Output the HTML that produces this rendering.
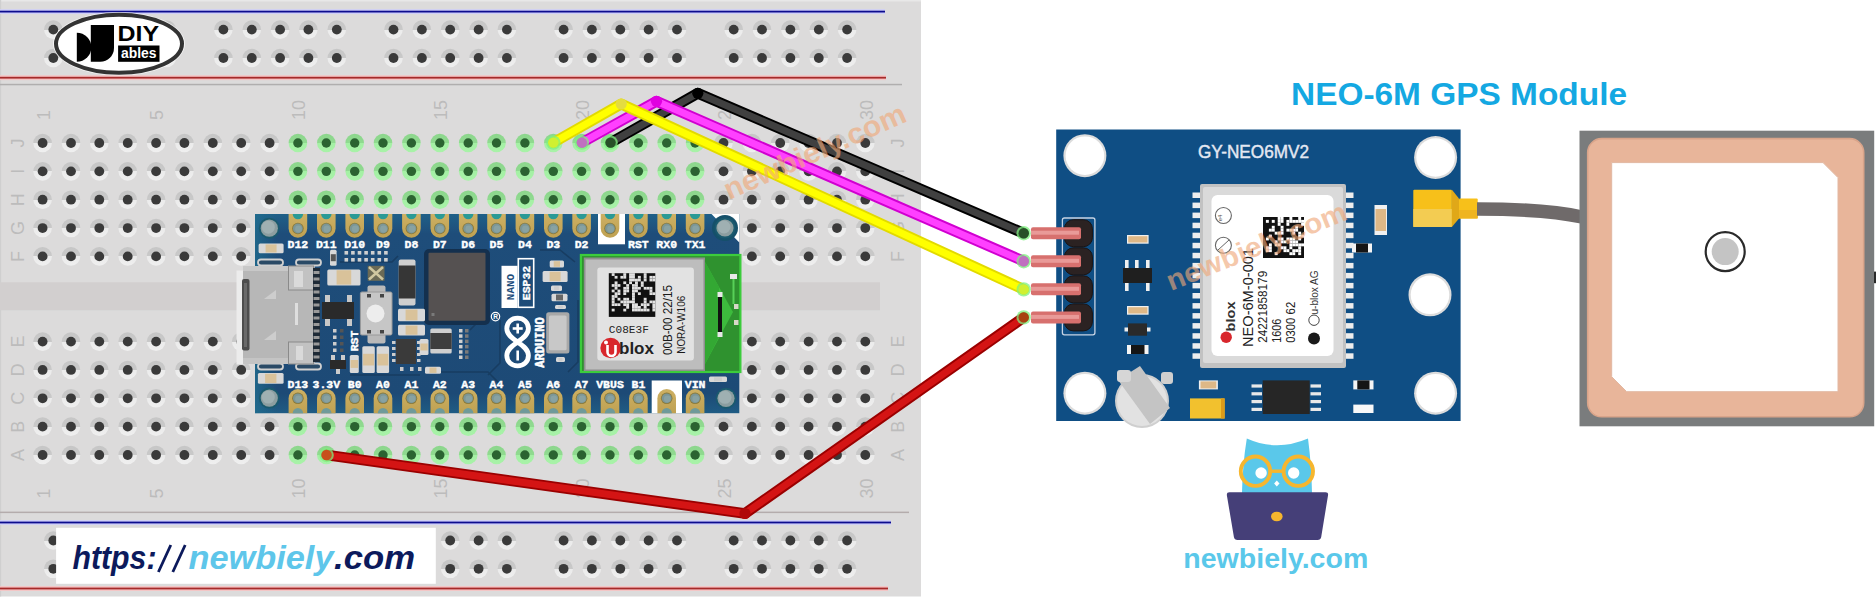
<!DOCTYPE html><html><head><meta charset="utf-8"><style>
html,body{margin:0;padding:0;background:#fff;width:1876px;height:601px;overflow:hidden}
svg{display:block}
svg{font-family:"Liberation Sans", sans-serif}
</style></head><body>
<svg width="1876" height="601" viewBox="0 0 1876 601">
<defs>
<linearGradient id="hr" x1="0" y1="0" x2="0" y2="1"><stop offset="0" stop-color="#c6c6c6"/><stop offset="0.5" stop-color="#c9c9c9"/><stop offset="0.5" stop-color="#ebebeb"/><stop offset="1" stop-color="#efefef"/></linearGradient>
<linearGradient id="gr" x1="0" y1="0" x2="0" y2="1"><stop offset="0" stop-color="#8cd68c"/><stop offset="0.5" stop-color="#90da90"/><stop offset="0.5" stop-color="#a4f0a4"/><stop offset="1" stop-color="#a8f2a8"/></linearGradient>
<g id="h"><circle r="9.3" fill="url(#hr)"/><circle r="4.9" fill="#3a3a3a"/></g>
<g id="g"><circle r="9.3" fill="url(#gr)"/><circle r="4.7" fill="#2b6331"/></g>
</defs>

<rect x="0" y="0" width="921" height="596.5" fill="#dcdbdb"/>
<rect x="0" y="0" width="921" height="1.5" fill="#e8e8e8"/>
<rect x="0" y="0" width="1.2" height="596.5" fill="#cfcfcf"/>
<rect x="0" y="9.2" width="885" height="4.8" fill="#cfcff8"/>
<rect x="0" y="10.7" width="885" height="1.8" fill="#0c0c8e"/>
<rect x="0" y="75.3" width="886" height="4.8" fill="#f5c4c4"/>
<rect x="0" y="76.8" width="886" height="1.8" fill="#a62a2a"/>
<rect x="0" y="83.8" width="902" height="1.5" fill="#b0aeae"/>
<rect x="0" y="511.6" width="909" height="1.5" fill="#b4acac"/>
<rect x="0" y="520.1" width="891" height="4.8" fill="#cfcff8"/>
<rect x="0" y="521.6" width="891" height="1.8" fill="#0c0c8e"/>
<rect x="0" y="586.1" width="888" height="4.8" fill="#f5c4c4"/>
<rect x="0" y="587.6" width="888" height="1.8" fill="#a62a2a"/>
<rect x="0" y="282.3" width="880" height="28" fill="#d2cfcf"/>
<use href="#h" x="53.3" y="29.6"/>
<use href="#h" x="81.7" y="29.6"/>
<use href="#h" x="110.0" y="29.6"/>
<use href="#h" x="138.4" y="29.6"/>
<use href="#h" x="166.7" y="29.6"/>
<use href="#h" x="223.4" y="29.6"/>
<use href="#h" x="251.8" y="29.6"/>
<use href="#h" x="280.1" y="29.6"/>
<use href="#h" x="308.4" y="29.6"/>
<use href="#h" x="336.8" y="29.6"/>
<use href="#h" x="393.5" y="29.6"/>
<use href="#h" x="421.9" y="29.6"/>
<use href="#h" x="450.2" y="29.6"/>
<use href="#h" x="478.6" y="29.6"/>
<use href="#h" x="506.9" y="29.6"/>
<use href="#h" x="563.6" y="29.6"/>
<use href="#h" x="591.9" y="29.6"/>
<use href="#h" x="620.3" y="29.6"/>
<use href="#h" x="648.6" y="29.6"/>
<use href="#h" x="677.0" y="29.6"/>
<use href="#h" x="733.7" y="29.6"/>
<use href="#h" x="762.0" y="29.6"/>
<use href="#h" x="790.4" y="29.6"/>
<use href="#h" x="818.8" y="29.6"/>
<use href="#h" x="847.1" y="29.6"/>
<use href="#h" x="53.3" y="58.0"/>
<use href="#h" x="81.7" y="58.0"/>
<use href="#h" x="110.0" y="58.0"/>
<use href="#h" x="138.4" y="58.0"/>
<use href="#h" x="166.7" y="58.0"/>
<use href="#h" x="223.4" y="58.0"/>
<use href="#h" x="251.8" y="58.0"/>
<use href="#h" x="280.1" y="58.0"/>
<use href="#h" x="308.4" y="58.0"/>
<use href="#h" x="336.8" y="58.0"/>
<use href="#h" x="393.5" y="58.0"/>
<use href="#h" x="421.9" y="58.0"/>
<use href="#h" x="450.2" y="58.0"/>
<use href="#h" x="478.6" y="58.0"/>
<use href="#h" x="506.9" y="58.0"/>
<use href="#h" x="563.6" y="58.0"/>
<use href="#h" x="591.9" y="58.0"/>
<use href="#h" x="620.3" y="58.0"/>
<use href="#h" x="648.6" y="58.0"/>
<use href="#h" x="677.0" y="58.0"/>
<use href="#h" x="733.7" y="58.0"/>
<use href="#h" x="762.0" y="58.0"/>
<use href="#h" x="790.4" y="58.0"/>
<use href="#h" x="818.8" y="58.0"/>
<use href="#h" x="847.1" y="58.0"/>
<use href="#h" x="53.3" y="540.5"/>
<use href="#h" x="81.7" y="540.5"/>
<use href="#h" x="110.0" y="540.5"/>
<use href="#h" x="138.4" y="540.5"/>
<use href="#h" x="166.7" y="540.5"/>
<use href="#h" x="223.4" y="540.5"/>
<use href="#h" x="251.8" y="540.5"/>
<use href="#h" x="280.1" y="540.5"/>
<use href="#h" x="308.4" y="540.5"/>
<use href="#h" x="336.8" y="540.5"/>
<use href="#h" x="393.5" y="540.5"/>
<use href="#h" x="421.9" y="540.5"/>
<use href="#h" x="450.2" y="540.5"/>
<use href="#h" x="478.6" y="540.5"/>
<use href="#h" x="506.9" y="540.5"/>
<use href="#h" x="563.6" y="540.5"/>
<use href="#h" x="591.9" y="540.5"/>
<use href="#h" x="620.3" y="540.5"/>
<use href="#h" x="648.6" y="540.5"/>
<use href="#h" x="677.0" y="540.5"/>
<use href="#h" x="733.7" y="540.5"/>
<use href="#h" x="762.0" y="540.5"/>
<use href="#h" x="790.4" y="540.5"/>
<use href="#h" x="818.8" y="540.5"/>
<use href="#h" x="847.1" y="540.5"/>
<use href="#h" x="53.3" y="568.8"/>
<use href="#h" x="81.7" y="568.8"/>
<use href="#h" x="110.0" y="568.8"/>
<use href="#h" x="138.4" y="568.8"/>
<use href="#h" x="166.7" y="568.8"/>
<use href="#h" x="223.4" y="568.8"/>
<use href="#h" x="251.8" y="568.8"/>
<use href="#h" x="280.1" y="568.8"/>
<use href="#h" x="308.4" y="568.8"/>
<use href="#h" x="336.8" y="568.8"/>
<use href="#h" x="393.5" y="568.8"/>
<use href="#h" x="421.9" y="568.8"/>
<use href="#h" x="450.2" y="568.8"/>
<use href="#h" x="478.6" y="568.8"/>
<use href="#h" x="506.9" y="568.8"/>
<use href="#h" x="563.6" y="568.8"/>
<use href="#h" x="591.9" y="568.8"/>
<use href="#h" x="620.3" y="568.8"/>
<use href="#h" x="648.6" y="568.8"/>
<use href="#h" x="677.0" y="568.8"/>
<use href="#h" x="733.7" y="568.8"/>
<use href="#h" x="762.0" y="568.8"/>
<use href="#h" x="790.4" y="568.8"/>
<use href="#h" x="818.8" y="568.8"/>
<use href="#h" x="847.1" y="568.8"/>
<use href="#h" x="42.6" y="143"/>
<use href="#h" x="42.6" y="171.35"/>
<use href="#h" x="42.6" y="199.7"/>
<use href="#h" x="42.6" y="228.05"/>
<use href="#h" x="42.6" y="256.4"/>
<use href="#h" x="42.6" y="341.6"/>
<use href="#h" x="42.6" y="369.95"/>
<use href="#h" x="42.6" y="398.3"/>
<use href="#h" x="42.6" y="426.65"/>
<use href="#h" x="42.6" y="455"/>
<use href="#h" x="71.0" y="143"/>
<use href="#h" x="71.0" y="171.35"/>
<use href="#h" x="71.0" y="199.7"/>
<use href="#h" x="71.0" y="228.05"/>
<use href="#h" x="71.0" y="256.4"/>
<use href="#h" x="71.0" y="341.6"/>
<use href="#h" x="71.0" y="369.95"/>
<use href="#h" x="71.0" y="398.3"/>
<use href="#h" x="71.0" y="426.65"/>
<use href="#h" x="71.0" y="455"/>
<use href="#h" x="99.3" y="143"/>
<use href="#h" x="99.3" y="171.35"/>
<use href="#h" x="99.3" y="199.7"/>
<use href="#h" x="99.3" y="228.05"/>
<use href="#h" x="99.3" y="256.4"/>
<use href="#h" x="99.3" y="341.6"/>
<use href="#h" x="99.3" y="369.95"/>
<use href="#h" x="99.3" y="398.3"/>
<use href="#h" x="99.3" y="426.65"/>
<use href="#h" x="99.3" y="455"/>
<use href="#h" x="127.7" y="143"/>
<use href="#h" x="127.7" y="171.35"/>
<use href="#h" x="127.7" y="199.7"/>
<use href="#h" x="127.7" y="228.05"/>
<use href="#h" x="127.7" y="256.4"/>
<use href="#h" x="127.7" y="341.6"/>
<use href="#h" x="127.7" y="369.95"/>
<use href="#h" x="127.7" y="398.3"/>
<use href="#h" x="127.7" y="426.65"/>
<use href="#h" x="127.7" y="455"/>
<use href="#h" x="156.1" y="143"/>
<use href="#h" x="156.1" y="171.35"/>
<use href="#h" x="156.1" y="199.7"/>
<use href="#h" x="156.1" y="228.05"/>
<use href="#h" x="156.1" y="256.4"/>
<use href="#h" x="156.1" y="341.6"/>
<use href="#h" x="156.1" y="369.95"/>
<use href="#h" x="156.1" y="398.3"/>
<use href="#h" x="156.1" y="426.65"/>
<use href="#h" x="156.1" y="455"/>
<use href="#h" x="184.4" y="143"/>
<use href="#h" x="184.4" y="171.35"/>
<use href="#h" x="184.4" y="199.7"/>
<use href="#h" x="184.4" y="228.05"/>
<use href="#h" x="184.4" y="256.4"/>
<use href="#h" x="184.4" y="341.6"/>
<use href="#h" x="184.4" y="369.95"/>
<use href="#h" x="184.4" y="398.3"/>
<use href="#h" x="184.4" y="426.65"/>
<use href="#h" x="184.4" y="455"/>
<use href="#h" x="212.8" y="143"/>
<use href="#h" x="212.8" y="171.35"/>
<use href="#h" x="212.8" y="199.7"/>
<use href="#h" x="212.8" y="228.05"/>
<use href="#h" x="212.8" y="256.4"/>
<use href="#h" x="212.8" y="341.6"/>
<use href="#h" x="212.8" y="369.95"/>
<use href="#h" x="212.8" y="398.3"/>
<use href="#h" x="212.8" y="426.65"/>
<use href="#h" x="212.8" y="455"/>
<use href="#h" x="241.2" y="143"/>
<use href="#h" x="241.2" y="171.35"/>
<use href="#h" x="241.2" y="199.7"/>
<use href="#h" x="241.2" y="228.05"/>
<use href="#h" x="241.2" y="256.4"/>
<use href="#h" x="241.2" y="341.6"/>
<use href="#h" x="241.2" y="369.95"/>
<use href="#h" x="241.2" y="398.3"/>
<use href="#h" x="241.2" y="426.65"/>
<use href="#h" x="241.2" y="455"/>
<use href="#h" x="269.6" y="143"/>
<use href="#h" x="269.6" y="171.35"/>
<use href="#h" x="269.6" y="199.7"/>
<use href="#h" x="269.6" y="228.05"/>
<use href="#h" x="269.6" y="256.4"/>
<use href="#h" x="269.6" y="341.6"/>
<use href="#h" x="269.6" y="369.95"/>
<use href="#h" x="269.6" y="398.3"/>
<use href="#h" x="269.6" y="426.65"/>
<use href="#h" x="269.6" y="455"/>
<use href="#g" x="297.9" y="143"/>
<use href="#g" x="297.9" y="171.35"/>
<use href="#g" x="297.9" y="199.7"/>
<use href="#h" x="297.9" y="228.05"/>
<use href="#h" x="297.9" y="256.4"/>
<use href="#h" x="297.9" y="341.6"/>
<use href="#h" x="297.9" y="369.95"/>
<use href="#h" x="297.9" y="398.3"/>
<use href="#g" x="297.9" y="426.65"/>
<use href="#g" x="297.9" y="455"/>
<use href="#g" x="326.3" y="143"/>
<use href="#g" x="326.3" y="171.35"/>
<use href="#g" x="326.3" y="199.7"/>
<use href="#h" x="326.3" y="228.05"/>
<use href="#h" x="326.3" y="256.4"/>
<use href="#h" x="326.3" y="341.6"/>
<use href="#h" x="326.3" y="369.95"/>
<use href="#h" x="326.3" y="398.3"/>
<use href="#g" x="326.3" y="426.65"/>
<use href="#g" x="326.3" y="455"/>
<use href="#g" x="354.7" y="143"/>
<use href="#g" x="354.7" y="171.35"/>
<use href="#g" x="354.7" y="199.7"/>
<use href="#h" x="354.7" y="228.05"/>
<use href="#h" x="354.7" y="256.4"/>
<use href="#h" x="354.7" y="341.6"/>
<use href="#h" x="354.7" y="369.95"/>
<use href="#h" x="354.7" y="398.3"/>
<use href="#g" x="354.7" y="426.65"/>
<use href="#g" x="354.7" y="455"/>
<use href="#g" x="383.0" y="143"/>
<use href="#g" x="383.0" y="171.35"/>
<use href="#g" x="383.0" y="199.7"/>
<use href="#h" x="383.0" y="228.05"/>
<use href="#h" x="383.0" y="256.4"/>
<use href="#h" x="383.0" y="341.6"/>
<use href="#h" x="383.0" y="369.95"/>
<use href="#h" x="383.0" y="398.3"/>
<use href="#g" x="383.0" y="426.65"/>
<use href="#g" x="383.0" y="455"/>
<use href="#g" x="411.4" y="143"/>
<use href="#g" x="411.4" y="171.35"/>
<use href="#g" x="411.4" y="199.7"/>
<use href="#h" x="411.4" y="228.05"/>
<use href="#h" x="411.4" y="256.4"/>
<use href="#h" x="411.4" y="341.6"/>
<use href="#h" x="411.4" y="369.95"/>
<use href="#h" x="411.4" y="398.3"/>
<use href="#g" x="411.4" y="426.65"/>
<use href="#g" x="411.4" y="455"/>
<use href="#g" x="439.8" y="143"/>
<use href="#g" x="439.8" y="171.35"/>
<use href="#g" x="439.8" y="199.7"/>
<use href="#h" x="439.8" y="228.05"/>
<use href="#h" x="439.8" y="256.4"/>
<use href="#h" x="439.8" y="341.6"/>
<use href="#h" x="439.8" y="369.95"/>
<use href="#h" x="439.8" y="398.3"/>
<use href="#g" x="439.8" y="426.65"/>
<use href="#g" x="439.8" y="455"/>
<use href="#g" x="468.2" y="143"/>
<use href="#g" x="468.2" y="171.35"/>
<use href="#g" x="468.2" y="199.7"/>
<use href="#h" x="468.2" y="228.05"/>
<use href="#h" x="468.2" y="256.4"/>
<use href="#h" x="468.2" y="341.6"/>
<use href="#h" x="468.2" y="369.95"/>
<use href="#h" x="468.2" y="398.3"/>
<use href="#g" x="468.2" y="426.65"/>
<use href="#g" x="468.2" y="455"/>
<use href="#g" x="496.5" y="143"/>
<use href="#g" x="496.5" y="171.35"/>
<use href="#g" x="496.5" y="199.7"/>
<use href="#h" x="496.5" y="228.05"/>
<use href="#h" x="496.5" y="256.4"/>
<use href="#h" x="496.5" y="341.6"/>
<use href="#h" x="496.5" y="369.95"/>
<use href="#h" x="496.5" y="398.3"/>
<use href="#g" x="496.5" y="426.65"/>
<use href="#g" x="496.5" y="455"/>
<use href="#g" x="524.9" y="143"/>
<use href="#g" x="524.9" y="171.35"/>
<use href="#g" x="524.9" y="199.7"/>
<use href="#h" x="524.9" y="228.05"/>
<use href="#h" x="524.9" y="256.4"/>
<use href="#h" x="524.9" y="341.6"/>
<use href="#h" x="524.9" y="369.95"/>
<use href="#h" x="524.9" y="398.3"/>
<use href="#g" x="524.9" y="426.65"/>
<use href="#g" x="524.9" y="455"/>
<use href="#g" x="553.3" y="143"/>
<use href="#g" x="553.3" y="171.35"/>
<use href="#g" x="553.3" y="199.7"/>
<use href="#h" x="553.3" y="228.05"/>
<use href="#h" x="553.3" y="256.4"/>
<use href="#h" x="553.3" y="341.6"/>
<use href="#h" x="553.3" y="369.95"/>
<use href="#h" x="553.3" y="398.3"/>
<use href="#g" x="553.3" y="426.65"/>
<use href="#g" x="553.3" y="455"/>
<use href="#g" x="581.6" y="143"/>
<use href="#g" x="581.6" y="171.35"/>
<use href="#g" x="581.6" y="199.7"/>
<use href="#h" x="581.6" y="228.05"/>
<use href="#h" x="581.6" y="256.4"/>
<use href="#h" x="581.6" y="341.6"/>
<use href="#h" x="581.6" y="369.95"/>
<use href="#h" x="581.6" y="398.3"/>
<use href="#g" x="581.6" y="426.65"/>
<use href="#g" x="581.6" y="455"/>
<use href="#g" x="610.0" y="143"/>
<use href="#g" x="610.0" y="171.35"/>
<use href="#g" x="610.0" y="199.7"/>
<use href="#h" x="610.0" y="228.05"/>
<use href="#h" x="610.0" y="256.4"/>
<use href="#h" x="610.0" y="341.6"/>
<use href="#h" x="610.0" y="369.95"/>
<use href="#h" x="610.0" y="398.3"/>
<use href="#g" x="610.0" y="426.65"/>
<use href="#g" x="610.0" y="455"/>
<use href="#g" x="638.4" y="143"/>
<use href="#g" x="638.4" y="171.35"/>
<use href="#g" x="638.4" y="199.7"/>
<use href="#h" x="638.4" y="228.05"/>
<use href="#h" x="638.4" y="256.4"/>
<use href="#h" x="638.4" y="341.6"/>
<use href="#h" x="638.4" y="369.95"/>
<use href="#h" x="638.4" y="398.3"/>
<use href="#g" x="638.4" y="426.65"/>
<use href="#g" x="638.4" y="455"/>
<use href="#g" x="666.7" y="143"/>
<use href="#g" x="666.7" y="171.35"/>
<use href="#g" x="666.7" y="199.7"/>
<use href="#h" x="666.7" y="228.05"/>
<use href="#h" x="666.7" y="256.4"/>
<use href="#h" x="666.7" y="341.6"/>
<use href="#h" x="666.7" y="369.95"/>
<use href="#h" x="666.7" y="398.3"/>
<use href="#g" x="666.7" y="426.65"/>
<use href="#g" x="666.7" y="455"/>
<use href="#g" x="695.1" y="143"/>
<use href="#g" x="695.1" y="171.35"/>
<use href="#g" x="695.1" y="199.7"/>
<use href="#h" x="695.1" y="228.05"/>
<use href="#h" x="695.1" y="256.4"/>
<use href="#h" x="695.1" y="341.6"/>
<use href="#h" x="695.1" y="369.95"/>
<use href="#h" x="695.1" y="398.3"/>
<use href="#g" x="695.1" y="426.65"/>
<use href="#g" x="695.1" y="455"/>
<use href="#h" x="723.5" y="143"/>
<use href="#h" x="723.5" y="171.35"/>
<use href="#h" x="723.5" y="199.7"/>
<use href="#h" x="723.5" y="228.05"/>
<use href="#h" x="723.5" y="256.4"/>
<use href="#h" x="723.5" y="341.6"/>
<use href="#h" x="723.5" y="369.95"/>
<use href="#h" x="723.5" y="398.3"/>
<use href="#h" x="723.5" y="426.65"/>
<use href="#h" x="723.5" y="455"/>
<use href="#h" x="751.9" y="143"/>
<use href="#h" x="751.9" y="171.35"/>
<use href="#h" x="751.9" y="199.7"/>
<use href="#h" x="751.9" y="228.05"/>
<use href="#h" x="751.9" y="256.4"/>
<use href="#h" x="751.9" y="341.6"/>
<use href="#h" x="751.9" y="369.95"/>
<use href="#h" x="751.9" y="398.3"/>
<use href="#h" x="751.9" y="426.65"/>
<use href="#h" x="751.9" y="455"/>
<use href="#h" x="780.2" y="143"/>
<use href="#h" x="780.2" y="171.35"/>
<use href="#h" x="780.2" y="199.7"/>
<use href="#h" x="780.2" y="228.05"/>
<use href="#h" x="780.2" y="256.4"/>
<use href="#h" x="780.2" y="341.6"/>
<use href="#h" x="780.2" y="369.95"/>
<use href="#h" x="780.2" y="398.3"/>
<use href="#h" x="780.2" y="426.65"/>
<use href="#h" x="780.2" y="455"/>
<use href="#h" x="808.6" y="143"/>
<use href="#h" x="808.6" y="171.35"/>
<use href="#h" x="808.6" y="199.7"/>
<use href="#h" x="808.6" y="228.05"/>
<use href="#h" x="808.6" y="256.4"/>
<use href="#h" x="808.6" y="341.6"/>
<use href="#h" x="808.6" y="369.95"/>
<use href="#h" x="808.6" y="398.3"/>
<use href="#h" x="808.6" y="426.65"/>
<use href="#h" x="808.6" y="455"/>
<use href="#h" x="837.0" y="143"/>
<use href="#h" x="837.0" y="171.35"/>
<use href="#h" x="837.0" y="199.7"/>
<use href="#h" x="837.0" y="228.05"/>
<use href="#h" x="837.0" y="256.4"/>
<use href="#h" x="837.0" y="341.6"/>
<use href="#h" x="837.0" y="369.95"/>
<use href="#h" x="837.0" y="398.3"/>
<use href="#h" x="837.0" y="426.65"/>
<use href="#h" x="837.0" y="455"/>
<use href="#h" x="865.3" y="143"/>
<use href="#h" x="865.3" y="171.35"/>
<use href="#h" x="865.3" y="199.7"/>
<use href="#h" x="865.3" y="228.05"/>
<use href="#h" x="865.3" y="256.4"/>
<use href="#h" x="865.3" y="341.6"/>
<use href="#h" x="865.3" y="369.95"/>
<use href="#h" x="865.3" y="398.3"/>
<use href="#h" x="865.3" y="426.65"/>
<use href="#h" x="865.3" y="455"/>
<text transform="translate(49.8,120) rotate(-90)" font-size="18" fill="#bcbcbc">1</text>
<text transform="translate(49.8,498.5) rotate(-90)" font-size="18" fill="#bcbcbc">1</text>
<text transform="translate(163.3,120) rotate(-90)" font-size="18" fill="#bcbcbc">5</text>
<text transform="translate(163.3,498.5) rotate(-90)" font-size="18" fill="#bcbcbc">5</text>
<text transform="translate(305.1,120) rotate(-90)" font-size="18" fill="#bcbcbc">10</text>
<text transform="translate(305.1,498.5) rotate(-90)" font-size="18" fill="#bcbcbc">10</text>
<text transform="translate(447.0,120) rotate(-90)" font-size="18" fill="#bcbcbc">15</text>
<text transform="translate(447.0,498.5) rotate(-90)" font-size="18" fill="#bcbcbc">15</text>
<text transform="translate(588.8,120) rotate(-90)" font-size="18" fill="#bcbcbc">20</text>
<text transform="translate(588.8,498.5) rotate(-90)" font-size="18" fill="#bcbcbc">20</text>
<text transform="translate(730.7,120) rotate(-90)" font-size="18" fill="#bcbcbc">25</text>
<text transform="translate(730.7,498.5) rotate(-90)" font-size="18" fill="#bcbcbc">25</text>
<text transform="translate(872.5,120) rotate(-90)" font-size="18" fill="#bcbcbc">30</text>
<text transform="translate(872.5,498.5) rotate(-90)" font-size="18" fill="#bcbcbc">30</text>
<text transform="translate(24.1,143) rotate(-90)" font-size="18" fill="#bcbcbc" text-anchor="middle">J</text>
<text transform="translate(904.1,143) rotate(-90)" font-size="18" fill="#bcbcbc" text-anchor="middle">J</text>
<text transform="translate(24.1,171.35) rotate(-90)" font-size="18" fill="#bcbcbc" text-anchor="middle">I</text>
<text transform="translate(904.1,171.35) rotate(-90)" font-size="18" fill="#bcbcbc" text-anchor="middle">I</text>
<text transform="translate(24.1,199.7) rotate(-90)" font-size="18" fill="#bcbcbc" text-anchor="middle">H</text>
<text transform="translate(904.1,199.7) rotate(-90)" font-size="18" fill="#bcbcbc" text-anchor="middle">H</text>
<text transform="translate(24.1,228.05) rotate(-90)" font-size="18" fill="#bcbcbc" text-anchor="middle">G</text>
<text transform="translate(904.1,228.05) rotate(-90)" font-size="18" fill="#bcbcbc" text-anchor="middle">G</text>
<text transform="translate(24.1,256.4) rotate(-90)" font-size="18" fill="#bcbcbc" text-anchor="middle">F</text>
<text transform="translate(904.1,256.4) rotate(-90)" font-size="18" fill="#bcbcbc" text-anchor="middle">F</text>
<text transform="translate(24.1,341.6) rotate(-90)" font-size="18" fill="#bcbcbc" text-anchor="middle">E</text>
<text transform="translate(904.1,341.6) rotate(-90)" font-size="18" fill="#bcbcbc" text-anchor="middle">E</text>
<text transform="translate(24.1,369.95) rotate(-90)" font-size="18" fill="#bcbcbc" text-anchor="middle">D</text>
<text transform="translate(904.1,369.95) rotate(-90)" font-size="18" fill="#bcbcbc" text-anchor="middle">D</text>
<text transform="translate(24.1,398.3) rotate(-90)" font-size="18" fill="#bcbcbc" text-anchor="middle">C</text>
<text transform="translate(904.1,398.3) rotate(-90)" font-size="18" fill="#bcbcbc" text-anchor="middle">C</text>
<text transform="translate(24.1,426.65) rotate(-90)" font-size="18" fill="#bcbcbc" text-anchor="middle">B</text>
<text transform="translate(904.1,426.65) rotate(-90)" font-size="18" fill="#bcbcbc" text-anchor="middle">B</text>
<text transform="translate(24.1,455) rotate(-90)" font-size="18" fill="#bcbcbc" text-anchor="middle">A</text>
<text transform="translate(904.1,455) rotate(-90)" font-size="18" fill="#bcbcbc" text-anchor="middle">A</text>
<g id="arduino">
<defs><linearGradient id="pcb" x1="0" y1="0" x2="0" y2="1"><stop offset="0" stop-color="#1f6088"/><stop offset="0.1" stop-color="#1e4d7a"/><stop offset="0.9" stop-color="#1d4a76"/><stop offset="1" stop-color="#1f5c84"/></linearGradient><linearGradient id="pad" x1="0" y1="0" x2="0" y2="1"><stop offset="0" stop-color="#cdb063"/><stop offset="1" stop-color="#bfa152"/></linearGradient></defs>
<rect x="255" y="214" width="484.3" height="199.2" fill="url(#pcb)"/>
<defs><linearGradient id="lt" x1="0" y1="0" x2="1" y2="0"><stop offset="0" stop-color="#207090" stop-opacity="0.7"/><stop offset="1" stop-color="#207090" stop-opacity="0"/></linearGradient></defs><rect x="255" y="214" width="22" height="199.2" fill="url(#lt)"/>
<path d="M430 372 L488 372 L500 384 M470 330 L482 318 L482 250 M488 375 L500 363 L500 320 M340 262 L392 262 L398 256 M568 372 L578 362 L578 300 M350 375 L420 375 M540 250 L560 250 L575 262" fill="none" stroke="#16395c" stroke-width="1.6" opacity="0.8"/>
<path d="M711.5 214 L739.3 214 L739.3 242.5 Z" fill="#ffffff"/>
<circle cx="725" cy="228" r="13" fill="#15506a"/>
<circle cx="269.3" cy="228.2" r="10.5" fill="#1a5a6e"/><circle cx="269.3" cy="228.2" r="8.6" fill="#8c9ea0"/><circle cx="268.3" cy="227.2" r="6.5" fill="#9fb0b2"/>
<circle cx="269.3" cy="398.1" r="10.5" fill="#1a5a6e"/><circle cx="269.3" cy="398.1" r="8.6" fill="#8c9ea0"/><circle cx="268.3" cy="397.1" r="6.5" fill="#9fb0b2"/>
<circle cx="725" cy="228" r="10.5" fill="#1a5a6e"/><circle cx="725" cy="228" r="8.6" fill="#8c9ea0"/><circle cx="724" cy="227" r="6.5" fill="#9fb0b2"/>
<circle cx="726" cy="398.3" r="10.5" fill="#1a5a6e"/><circle cx="726" cy="398.3" r="8.6" fill="#8c9ea0"/><circle cx="725" cy="397.3" r="6.5" fill="#9fb0b2"/>
<rect x="598" y="214" width="27" height="30.3" fill="#ffffff"/>
<rect x="651.7" y="380.5" width="30.3" height="32.7" fill="#ffffff"/>
<path d="M288.6 214 L307.2 214 L307.2 228.5 A9.3 9.3 0 0 1 288.6 228.5 Z" fill="url(#pad)"/>
<path d="M292.7 214 A5.2 5.2 0 0 0 303.1 214 Z" fill="#2a9a96"/>
<circle cx="297.9" cy="228.5" r="5.8" fill="#8a7a3a"/><circle cx="297.9" cy="228.5" r="4.9" fill="#7c9696"/><circle cx="298.5" cy="229" r="3.4" fill="#88a2a2"/>
<path d="M288.6 413.2 L307.2 413.2 L307.2 398.3 A9.3 9.3 0 0 0 288.6 398.3 Z" fill="url(#pad)"/>
<path d="M292.7 413.2 A5.2 5.2 0 0 1 303.1 413.2 Z" fill="#6f9a9a"/>
<circle cx="297.9" cy="398.3" r="5.8" fill="#8a7a3a"/><circle cx="297.9" cy="398.3" r="4.9" fill="#7c9696"/><circle cx="298.5" cy="398.8" r="3.4" fill="#88a2a2"/>
<text x="297.9" y="247.6" font-family='"Liberation Mono", monospace' font-weight="bold" font-size="11.5" fill="#ffffff" stroke="#ffffff" stroke-width="0.4" text-anchor="middle">D12</text>
<text x="297.9" y="387.8" font-family='"Liberation Mono", monospace' font-weight="bold" font-size="11.5" fill="#ffffff" stroke="#ffffff" stroke-width="0.4" text-anchor="middle">D13</text>
<path d="M317.0 214 L335.6 214 L335.6 228.5 A9.3 9.3 0 0 1 317.0 228.5 Z" fill="url(#pad)"/>
<path d="M321.1 214 A5.2 5.2 0 0 0 331.5 214 Z" fill="#2a9a96"/>
<circle cx="326.3" cy="228.5" r="5.8" fill="#8a7a3a"/><circle cx="326.3" cy="228.5" r="4.9" fill="#7c9696"/><circle cx="326.9" cy="229" r="3.4" fill="#88a2a2"/>
<path d="M317.0 413.2 L335.6 413.2 L335.6 398.3 A9.3 9.3 0 0 0 317.0 398.3 Z" fill="url(#pad)"/>
<path d="M321.1 413.2 A5.2 5.2 0 0 1 331.5 413.2 Z" fill="#6f9a9a"/>
<circle cx="326.3" cy="398.3" r="5.8" fill="#8a7a3a"/><circle cx="326.3" cy="398.3" r="4.9" fill="#7c9696"/><circle cx="326.9" cy="398.8" r="3.4" fill="#88a2a2"/>
<text x="326.3" y="247.6" font-family='"Liberation Mono", monospace' font-weight="bold" font-size="11.5" fill="#ffffff" stroke="#ffffff" stroke-width="0.4" text-anchor="middle">D11</text>
<text x="326.3" y="387.8" font-family='"Liberation Mono", monospace' font-weight="bold" font-size="11.5" fill="#ffffff" stroke="#ffffff" stroke-width="0.4" text-anchor="middle">3.3V</text>
<path d="M345.4 214 L364.0 214 L364.0 228.5 A9.3 9.3 0 0 1 345.4 228.5 Z" fill="url(#pad)"/>
<path d="M349.5 214 A5.2 5.2 0 0 0 359.9 214 Z" fill="#2a9a96"/>
<circle cx="354.7" cy="228.5" r="5.8" fill="#8a7a3a"/><circle cx="354.7" cy="228.5" r="4.9" fill="#7c9696"/><circle cx="355.3" cy="229" r="3.4" fill="#88a2a2"/>
<path d="M345.4 413.2 L364.0 413.2 L364.0 398.3 A9.3 9.3 0 0 0 345.4 398.3 Z" fill="url(#pad)"/>
<path d="M349.5 413.2 A5.2 5.2 0 0 1 359.9 413.2 Z" fill="#6f9a9a"/>
<circle cx="354.7" cy="398.3" r="5.8" fill="#8a7a3a"/><circle cx="354.7" cy="398.3" r="4.9" fill="#7c9696"/><circle cx="355.3" cy="398.8" r="3.4" fill="#88a2a2"/>
<text x="354.7" y="247.6" font-family='"Liberation Mono", monospace' font-weight="bold" font-size="11.5" fill="#ffffff" stroke="#ffffff" stroke-width="0.4" text-anchor="middle">D10</text>
<text x="354.7" y="387.8" font-family='"Liberation Mono", monospace' font-weight="bold" font-size="11.5" fill="#ffffff" stroke="#ffffff" stroke-width="0.4" text-anchor="middle">B0</text>
<path d="M373.7 214 L392.3 214 L392.3 228.5 A9.3 9.3 0 0 1 373.7 228.5 Z" fill="url(#pad)"/>
<path d="M377.8 214 A5.2 5.2 0 0 0 388.2 214 Z" fill="#2a9a96"/>
<circle cx="383.0" cy="228.5" r="5.8" fill="#8a7a3a"/><circle cx="383.0" cy="228.5" r="4.9" fill="#7c9696"/><circle cx="383.6" cy="229" r="3.4" fill="#88a2a2"/>
<path d="M373.7 413.2 L392.3 413.2 L392.3 398.3 A9.3 9.3 0 0 0 373.7 398.3 Z" fill="url(#pad)"/>
<path d="M377.8 413.2 A5.2 5.2 0 0 1 388.2 413.2 Z" fill="#6f9a9a"/>
<circle cx="383.0" cy="398.3" r="5.8" fill="#8a7a3a"/><circle cx="383.0" cy="398.3" r="4.9" fill="#7c9696"/><circle cx="383.6" cy="398.8" r="3.4" fill="#88a2a2"/>
<text x="383.0" y="247.6" font-family='"Liberation Mono", monospace' font-weight="bold" font-size="11.5" fill="#ffffff" stroke="#ffffff" stroke-width="0.4" text-anchor="middle">D9</text>
<text x="383.0" y="387.8" font-family='"Liberation Mono", monospace' font-weight="bold" font-size="11.5" fill="#ffffff" stroke="#ffffff" stroke-width="0.4" text-anchor="middle">A0</text>
<path d="M402.1 214 L420.7 214 L420.7 228.5 A9.3 9.3 0 0 1 402.1 228.5 Z" fill="url(#pad)"/>
<path d="M406.2 214 A5.2 5.2 0 0 0 416.6 214 Z" fill="#2a9a96"/>
<circle cx="411.4" cy="228.5" r="5.8" fill="#8a7a3a"/><circle cx="411.4" cy="228.5" r="4.9" fill="#7c9696"/><circle cx="412.0" cy="229" r="3.4" fill="#88a2a2"/>
<path d="M402.1 413.2 L420.7 413.2 L420.7 398.3 A9.3 9.3 0 0 0 402.1 398.3 Z" fill="url(#pad)"/>
<path d="M406.2 413.2 A5.2 5.2 0 0 1 416.6 413.2 Z" fill="#6f9a9a"/>
<circle cx="411.4" cy="398.3" r="5.8" fill="#8a7a3a"/><circle cx="411.4" cy="398.3" r="4.9" fill="#7c9696"/><circle cx="412.0" cy="398.8" r="3.4" fill="#88a2a2"/>
<text x="411.4" y="247.6" font-family='"Liberation Mono", monospace' font-weight="bold" font-size="11.5" fill="#ffffff" stroke="#ffffff" stroke-width="0.4" text-anchor="middle">D8</text>
<text x="411.4" y="387.8" font-family='"Liberation Mono", monospace' font-weight="bold" font-size="11.5" fill="#ffffff" stroke="#ffffff" stroke-width="0.4" text-anchor="middle">A1</text>
<path d="M430.5 214 L449.1 214 L449.1 228.5 A9.3 9.3 0 0 1 430.5 228.5 Z" fill="url(#pad)"/>
<path d="M434.6 214 A5.2 5.2 0 0 0 445.0 214 Z" fill="#2a9a96"/>
<circle cx="439.8" cy="228.5" r="5.8" fill="#8a7a3a"/><circle cx="439.8" cy="228.5" r="4.9" fill="#7c9696"/><circle cx="440.4" cy="229" r="3.4" fill="#88a2a2"/>
<path d="M430.5 413.2 L449.1 413.2 L449.1 398.3 A9.3 9.3 0 0 0 430.5 398.3 Z" fill="url(#pad)"/>
<path d="M434.6 413.2 A5.2 5.2 0 0 1 445.0 413.2 Z" fill="#6f9a9a"/>
<circle cx="439.8" cy="398.3" r="5.8" fill="#8a7a3a"/><circle cx="439.8" cy="398.3" r="4.9" fill="#7c9696"/><circle cx="440.4" cy="398.8" r="3.4" fill="#88a2a2"/>
<text x="439.8" y="247.6" font-family='"Liberation Mono", monospace' font-weight="bold" font-size="11.5" fill="#ffffff" stroke="#ffffff" stroke-width="0.4" text-anchor="middle">D7</text>
<text x="439.8" y="387.8" font-family='"Liberation Mono", monospace' font-weight="bold" font-size="11.5" fill="#ffffff" stroke="#ffffff" stroke-width="0.4" text-anchor="middle">A2</text>
<path d="M458.9 214 L477.5 214 L477.5 228.5 A9.3 9.3 0 0 1 458.9 228.5 Z" fill="url(#pad)"/>
<path d="M463.0 214 A5.2 5.2 0 0 0 473.4 214 Z" fill="#2a9a96"/>
<circle cx="468.2" cy="228.5" r="5.8" fill="#8a7a3a"/><circle cx="468.2" cy="228.5" r="4.9" fill="#7c9696"/><circle cx="468.8" cy="229" r="3.4" fill="#88a2a2"/>
<path d="M458.9 413.2 L477.5 413.2 L477.5 398.3 A9.3 9.3 0 0 0 458.9 398.3 Z" fill="url(#pad)"/>
<path d="M463.0 413.2 A5.2 5.2 0 0 1 473.4 413.2 Z" fill="#6f9a9a"/>
<circle cx="468.2" cy="398.3" r="5.8" fill="#8a7a3a"/><circle cx="468.2" cy="398.3" r="4.9" fill="#7c9696"/><circle cx="468.8" cy="398.8" r="3.4" fill="#88a2a2"/>
<text x="468.2" y="247.6" font-family='"Liberation Mono", monospace' font-weight="bold" font-size="11.5" fill="#ffffff" stroke="#ffffff" stroke-width="0.4" text-anchor="middle">D6</text>
<text x="468.2" y="387.8" font-family='"Liberation Mono", monospace' font-weight="bold" font-size="11.5" fill="#ffffff" stroke="#ffffff" stroke-width="0.4" text-anchor="middle">A3</text>
<path d="M487.2 214 L505.8 214 L505.8 228.5 A9.3 9.3 0 0 1 487.2 228.5 Z" fill="url(#pad)"/>
<path d="M491.3 214 A5.2 5.2 0 0 0 501.7 214 Z" fill="#2a9a96"/>
<circle cx="496.5" cy="228.5" r="5.8" fill="#8a7a3a"/><circle cx="496.5" cy="228.5" r="4.9" fill="#7c9696"/><circle cx="497.1" cy="229" r="3.4" fill="#88a2a2"/>
<path d="M487.2 413.2 L505.8 413.2 L505.8 398.3 A9.3 9.3 0 0 0 487.2 398.3 Z" fill="url(#pad)"/>
<path d="M491.3 413.2 A5.2 5.2 0 0 1 501.7 413.2 Z" fill="#6f9a9a"/>
<circle cx="496.5" cy="398.3" r="5.8" fill="#8a7a3a"/><circle cx="496.5" cy="398.3" r="4.9" fill="#7c9696"/><circle cx="497.1" cy="398.8" r="3.4" fill="#88a2a2"/>
<text x="496.5" y="247.6" font-family='"Liberation Mono", monospace' font-weight="bold" font-size="11.5" fill="#ffffff" stroke="#ffffff" stroke-width="0.4" text-anchor="middle">D5</text>
<text x="496.5" y="387.8" font-family='"Liberation Mono", monospace' font-weight="bold" font-size="11.5" fill="#ffffff" stroke="#ffffff" stroke-width="0.4" text-anchor="middle">A4</text>
<path d="M515.6 214 L534.2 214 L534.2 228.5 A9.3 9.3 0 0 1 515.6 228.5 Z" fill="url(#pad)"/>
<path d="M519.7 214 A5.2 5.2 0 0 0 530.1 214 Z" fill="#2a9a96"/>
<circle cx="524.9" cy="228.5" r="5.8" fill="#8a7a3a"/><circle cx="524.9" cy="228.5" r="4.9" fill="#7c9696"/><circle cx="525.5" cy="229" r="3.4" fill="#88a2a2"/>
<path d="M515.6 413.2 L534.2 413.2 L534.2 398.3 A9.3 9.3 0 0 0 515.6 398.3 Z" fill="url(#pad)"/>
<path d="M519.7 413.2 A5.2 5.2 0 0 1 530.1 413.2 Z" fill="#6f9a9a"/>
<circle cx="524.9" cy="398.3" r="5.8" fill="#8a7a3a"/><circle cx="524.9" cy="398.3" r="4.9" fill="#7c9696"/><circle cx="525.5" cy="398.8" r="3.4" fill="#88a2a2"/>
<text x="524.9" y="247.6" font-family='"Liberation Mono", monospace' font-weight="bold" font-size="11.5" fill="#ffffff" stroke="#ffffff" stroke-width="0.4" text-anchor="middle">D4</text>
<text x="524.9" y="387.8" font-family='"Liberation Mono", monospace' font-weight="bold" font-size="11.5" fill="#ffffff" stroke="#ffffff" stroke-width="0.4" text-anchor="middle">A5</text>
<path d="M544.0 214 L562.6 214 L562.6 228.5 A9.3 9.3 0 0 1 544.0 228.5 Z" fill="url(#pad)"/>
<path d="M548.1 214 A5.2 5.2 0 0 0 558.5 214 Z" fill="#2a9a96"/>
<circle cx="553.3" cy="228.5" r="5.8" fill="#8a7a3a"/><circle cx="553.3" cy="228.5" r="4.9" fill="#7c9696"/><circle cx="553.9" cy="229" r="3.4" fill="#88a2a2"/>
<path d="M544.0 413.2 L562.6 413.2 L562.6 398.3 A9.3 9.3 0 0 0 544.0 398.3 Z" fill="url(#pad)"/>
<path d="M548.1 413.2 A5.2 5.2 0 0 1 558.5 413.2 Z" fill="#6f9a9a"/>
<circle cx="553.3" cy="398.3" r="5.8" fill="#8a7a3a"/><circle cx="553.3" cy="398.3" r="4.9" fill="#7c9696"/><circle cx="553.9" cy="398.8" r="3.4" fill="#88a2a2"/>
<text x="553.3" y="247.6" font-family='"Liberation Mono", monospace' font-weight="bold" font-size="11.5" fill="#ffffff" stroke="#ffffff" stroke-width="0.4" text-anchor="middle">D3</text>
<text x="553.3" y="387.8" font-family='"Liberation Mono", monospace' font-weight="bold" font-size="11.5" fill="#ffffff" stroke="#ffffff" stroke-width="0.4" text-anchor="middle">A6</text>
<path d="M572.3 214 L590.9 214 L590.9 228.5 A9.3 9.3 0 0 1 572.3 228.5 Z" fill="url(#pad)"/>
<path d="M576.4 214 A5.2 5.2 0 0 0 586.8 214 Z" fill="#2a9a96"/>
<circle cx="581.6" cy="228.5" r="5.8" fill="#8a7a3a"/><circle cx="581.6" cy="228.5" r="4.9" fill="#7c9696"/><circle cx="582.2" cy="229" r="3.4" fill="#88a2a2"/>
<path d="M572.3 413.2 L590.9 413.2 L590.9 398.3 A9.3 9.3 0 0 0 572.3 398.3 Z" fill="url(#pad)"/>
<path d="M576.4 413.2 A5.2 5.2 0 0 1 586.8 413.2 Z" fill="#6f9a9a"/>
<circle cx="581.6" cy="398.3" r="5.8" fill="#8a7a3a"/><circle cx="581.6" cy="398.3" r="4.9" fill="#7c9696"/><circle cx="582.2" cy="398.8" r="3.4" fill="#88a2a2"/>
<text x="581.6" y="247.6" font-family='"Liberation Mono", monospace' font-weight="bold" font-size="11.5" fill="#ffffff" stroke="#ffffff" stroke-width="0.4" text-anchor="middle">D2</text>
<text x="581.6" y="387.8" font-family='"Liberation Mono", monospace' font-weight="bold" font-size="11.5" fill="#ffffff" stroke="#ffffff" stroke-width="0.4" text-anchor="middle">A7</text>
<path d="M600.7 214 L619.3 214 L619.3 228.5 A9.3 9.3 0 0 1 600.7 228.5 Z" fill="url(#pad)"/>
<path d="M604.8 214 A5.2 5.2 0 0 0 615.2 214 Z" fill="#2a9a96"/>
<circle cx="610.0" cy="228.5" r="5.8" fill="#8a7a3a"/><circle cx="610.0" cy="228.5" r="4.9" fill="#7c9696"/><circle cx="610.6" cy="229" r="3.4" fill="#88a2a2"/>
<path d="M600.7 413.2 L619.3 413.2 L619.3 398.3 A9.3 9.3 0 0 0 600.7 398.3 Z" fill="url(#pad)"/>
<path d="M604.8 413.2 A5.2 5.2 0 0 1 615.2 413.2 Z" fill="#6f9a9a"/>
<circle cx="610.0" cy="398.3" r="5.8" fill="#8a7a3a"/><circle cx="610.0" cy="398.3" r="4.9" fill="#7c9696"/><circle cx="610.6" cy="398.8" r="3.4" fill="#88a2a2"/>
<text x="610.0" y="387.8" font-family='"Liberation Mono", monospace' font-weight="bold" font-size="11.5" fill="#ffffff" stroke="#ffffff" stroke-width="0.4" text-anchor="middle">VBUS</text>
<path d="M629.1 214 L647.7 214 L647.7 228.5 A9.3 9.3 0 0 1 629.1 228.5 Z" fill="url(#pad)"/>
<path d="M633.2 214 A5.2 5.2 0 0 0 643.6 214 Z" fill="#2a9a96"/>
<circle cx="638.4" cy="228.5" r="5.8" fill="#8a7a3a"/><circle cx="638.4" cy="228.5" r="4.9" fill="#7c9696"/><circle cx="639.0" cy="229" r="3.4" fill="#88a2a2"/>
<path d="M629.1 413.2 L647.7 413.2 L647.7 398.3 A9.3 9.3 0 0 0 629.1 398.3 Z" fill="url(#pad)"/>
<path d="M633.2 413.2 A5.2 5.2 0 0 1 643.6 413.2 Z" fill="#6f9a9a"/>
<circle cx="638.4" cy="398.3" r="5.8" fill="#8a7a3a"/><circle cx="638.4" cy="398.3" r="4.9" fill="#7c9696"/><circle cx="639.0" cy="398.8" r="3.4" fill="#88a2a2"/>
<text x="638.4" y="247.6" font-family='"Liberation Mono", monospace' font-weight="bold" font-size="11.5" fill="#ffffff" stroke="#ffffff" stroke-width="0.4" text-anchor="middle">RST</text>
<text x="638.4" y="387.8" font-family='"Liberation Mono", monospace' font-weight="bold" font-size="11.5" fill="#ffffff" stroke="#ffffff" stroke-width="0.4" text-anchor="middle">B1</text>
<path d="M657.4 214 L676.0 214 L676.0 228.5 A9.3 9.3 0 0 1 657.4 228.5 Z" fill="url(#pad)"/>
<path d="M661.5 214 A5.2 5.2 0 0 0 671.9 214 Z" fill="#2a9a96"/>
<circle cx="666.7" cy="228.5" r="5.8" fill="#8a7a3a"/><circle cx="666.7" cy="228.5" r="4.9" fill="#7c9696"/><circle cx="667.3" cy="229" r="3.4" fill="#88a2a2"/>
<path d="M657.4 413.2 L676.0 413.2 L676.0 398.3 A9.3 9.3 0 0 0 657.4 398.3 Z" fill="url(#pad)"/>
<path d="M661.5 413.2 A5.2 5.2 0 0 1 671.9 413.2 Z" fill="#6f9a9a"/>
<circle cx="666.7" cy="398.3" r="5.8" fill="#8a7a3a"/><circle cx="666.7" cy="398.3" r="4.9" fill="#7c9696"/><circle cx="667.3" cy="398.8" r="3.4" fill="#88a2a2"/>
<text x="666.7" y="247.6" font-family='"Liberation Mono", monospace' font-weight="bold" font-size="11.5" fill="#ffffff" stroke="#ffffff" stroke-width="0.4" text-anchor="middle">RX0</text>
<path d="M685.8 214 L704.4 214 L704.4 228.5 A9.3 9.3 0 0 1 685.8 228.5 Z" fill="url(#pad)"/>
<path d="M689.9 214 A5.2 5.2 0 0 0 700.3 214 Z" fill="#2a9a96"/>
<circle cx="695.1" cy="228.5" r="5.8" fill="#8a7a3a"/><circle cx="695.1" cy="228.5" r="4.9" fill="#7c9696"/><circle cx="695.7" cy="229" r="3.4" fill="#88a2a2"/>
<path d="M685.8 413.2 L704.4 413.2 L704.4 398.3 A9.3 9.3 0 0 0 685.8 398.3 Z" fill="url(#pad)"/>
<path d="M689.9 413.2 A5.2 5.2 0 0 1 700.3 413.2 Z" fill="#6f9a9a"/>
<circle cx="695.1" cy="398.3" r="5.8" fill="#8a7a3a"/><circle cx="695.1" cy="398.3" r="4.9" fill="#7c9696"/><circle cx="695.7" cy="398.8" r="3.4" fill="#88a2a2"/>
<text x="695.1" y="247.6" font-family='"Liberation Mono", monospace' font-weight="bold" font-size="11.5" fill="#ffffff" stroke="#ffffff" stroke-width="0.4" text-anchor="middle">TX1</text>
<text x="695.1" y="387.8" font-family='"Liberation Mono", monospace' font-weight="bold" font-size="11.5" fill="#ffffff" stroke="#ffffff" stroke-width="0.4" text-anchor="middle">VIN</text>
<rect x="258.6" y="243.6" width="25" height="9.7" rx="1.5" fill="#d8d8d8"/>
<rect x="265.6" y="244.4" width="11.0" height="8.1" fill="#d9c29a"/>
<rect x="257.9" y="373" width="25.7" height="10.8" rx="1.5" fill="#d8d8d8"/>
<rect x="265.1" y="373.8" width="11.3" height="9.200000000000001" fill="#d9c29a"/>
<rect x="258" y="259.5" width="25" height="6" rx="3" fill="#2a4a66" stroke="#d0d0d0" stroke-width="1.8"/>
<rect x="296" y="259.5" width="25" height="6" rx="3" fill="#2a4a66" stroke="#d0d0d0" stroke-width="1.8"/>
<rect x="258" y="363.5" width="25" height="6" rx="3" fill="#2a4a66" stroke="#d0d0d0" stroke-width="1.8"/>
<rect x="296" y="363.5" width="25" height="6" rx="3" fill="#2a4a66" stroke="#d0d0d0" stroke-width="1.8"/>
<rect x="236.5" y="270.5" width="8" height="94" fill="#ececec"/>
<rect x="243" y="266" width="71.5" height="98" fill="#b7b7b7"/>
<rect x="243" y="266" width="71.5" height="5" fill="#c8c8c8"/><rect x="243" y="358" width="71.5" height="6" fill="#c4c4c4"/>
<rect x="242" y="279" width="7.5" height="71.5" rx="2" fill="#4d4d4d"/><rect x="244" y="283" width="3" height="64" fill="#6a6a6a"/>
<path d="M264 299 L276 290 L276 299 Z" fill="#cdcdcd"/><path d="M264 340 L276 331 L276 340 Z" fill="#cdcdcd"/>
<rect x="288.5" y="266" width="25" height="24" fill="#c2c2c2" stroke="#8a8a8a" stroke-width="1"/><rect x="294" y="271" width="9" height="16" fill="#dadada"/>
<rect x="288.5" y="342" width="25" height="22" fill="#c2c2c2" stroke="#8a8a8a" stroke-width="1"/><rect x="296" y="346" width="7" height="14" fill="#dadada"/>
<rect x="295" y="303" width="3" height="22" fill="#dedede"/>
<rect x="313" y="268" width="7" height="94" fill="#1e2a36"/>
<rect x="313.5" y="271.0" width="6" height="3" fill="#9a9a9a"/>
<rect x="313.5" y="277.5" width="6" height="3" fill="#9a9a9a"/>
<rect x="313.5" y="284.0" width="6" height="3" fill="#9a9a9a"/>
<rect x="313.5" y="290.5" width="6" height="3" fill="#9a9a9a"/>
<rect x="313.5" y="297.0" width="6" height="3" fill="#9a9a9a"/>
<rect x="313.5" y="303.5" width="6" height="3" fill="#9a9a9a"/>
<rect x="313.5" y="310.0" width="6" height="3" fill="#9a9a9a"/>
<rect x="313.5" y="316.5" width="6" height="3" fill="#9a9a9a"/>
<rect x="313.5" y="323.0" width="6" height="3" fill="#9a9a9a"/>
<rect x="313.5" y="329.5" width="6" height="3" fill="#9a9a9a"/>
<rect x="313.5" y="336.0" width="6" height="3" fill="#9a9a9a"/>
<rect x="313.5" y="342.5" width="6" height="3" fill="#9a9a9a"/>
<rect x="313.5" y="349.0" width="6" height="3" fill="#9a9a9a"/>
<rect x="313.5" y="355.5" width="6" height="3" fill="#9a9a9a"/>
<rect x="330" y="249.7" width="6.6" height="16" rx="1.5" fill="#d8d8d8"/>
<rect x="330.8" y="254.2" width="5.0" height="7.0" fill="#555"/>
<rect x="344.5" y="251" width="3.6" height="3.6" fill="#d0d0d0"/>
<rect x="344.5" y="258" width="3.6" height="3.6" fill="#d0d0d0"/>
<rect x="351.1" y="251" width="3.6" height="3.6" fill="#d0d0d0"/>
<rect x="351.1" y="258" width="3.6" height="3.6" fill="#d0d0d0"/>
<rect x="357.7" y="251" width="3.6" height="3.6" fill="#d0d0d0"/>
<rect x="357.7" y="258" width="3.6" height="3.6" fill="#d0d0d0"/>
<rect x="364.3" y="251" width="3.6" height="3.6" fill="#d0d0d0"/>
<rect x="364.3" y="258" width="3.6" height="3.6" fill="#d0d0d0"/>
<rect x="370.9" y="251" width="3.6" height="3.6" fill="#d0d0d0"/>
<rect x="370.9" y="258" width="3.6" height="3.6" fill="#d0d0d0"/>
<rect x="377.5" y="251" width="3.6" height="3.6" fill="#d0d0d0"/>
<rect x="377.5" y="258" width="3.6" height="3.6" fill="#d0d0d0"/>
<rect x="384.1" y="251" width="3.6" height="3.6" fill="#d0d0d0"/>
<rect x="384.1" y="258" width="3.6" height="3.6" fill="#d0d0d0"/>
<rect x="327.3" y="269.4" width="33.2" height="16" rx="1.5" fill="#d8d8d8"/>
<rect x="336.6" y="270.2" width="14.6" height="14.4" fill="#d9c29a"/>
<rect x="367.7" y="265.8" width="16.8" height="15" fill="#6b6a55"/><path d="M369 267 L383 279.5 M383 267 L369 279.5" stroke="#cfc7a0" stroke-width="2.5"/>
<rect x="398.7" y="259.6" width="16.8" height="46" rx="2" fill="#cfcfcf"/><rect x="398.7" y="265.5" width="16.8" height="33" fill="#363636"/>
<rect x="424" y="249" width="66" height="76" rx="5" fill="#14304e"/><rect x="428.5" y="252.7" width="57" height="68" rx="1" fill="#555151"/><rect x="431.5" y="313" width="3" height="3" fill="#7a7a7a"/>
<rect x="325" y="295" width="5" height="8" fill="#c8c8c8"/><rect x="325" y="318" width="5" height="8" fill="#c8c8c8"/>
<rect x="347" y="295" width="5" height="8" fill="#c8c8c8"/><rect x="347" y="318" width="5" height="8" fill="#c8c8c8"/>
<rect x="322" y="302" width="32" height="17" fill="#2a2a2a"/>
<rect x="367.5" y="285.4" width="18" height="58" rx="2" fill="#b9b9b9"/>
<rect x="360.4" y="292" width="31.6" height="43" rx="1.5" fill="#c6c6c6" stroke="#9a9a9a" stroke-width="1"/>
<circle cx="375.5" cy="313.5" r="9" fill="#ededed"/>
<rect x="367" y="294" width="4" height="3.5" fill="#444"/><rect x="380" y="294" width="4" height="3.5" fill="#444"/><rect x="367" y="330" width="4" height="3.5" fill="#444"/><rect x="380" y="330" width="4" height="3.5" fill="#444"/>
<rect x="398" y="308.7" width="27" height="12.5" rx="1.5" fill="#d8d8d8"/>
<rect x="405.6" y="309.5" width="11.9" height="10.9" fill="#d9c29a"/>
<rect x="398" y="324.8" width="27" height="10.7" rx="1.5" fill="#d8d8d8"/>
<rect x="405.6" y="325.6" width="11.9" height="9.1" fill="#d9c29a"/>
<text transform="translate(357.5,341) rotate(-90)" font-family='"Liberation Mono", monospace' font-weight="bold" font-size="11.5" fill="#fff" stroke="#fff" stroke-width="0.4" text-anchor="middle">RST</text>
<rect x="333" y="329.0" width="3.5" height="3.5" fill="#ccc"/><rect x="340" y="329.0" width="3.5" height="3.5" fill="#555"/>
<rect x="333" y="335.5" width="3.5" height="3.5" fill="#ccc"/><rect x="340" y="335.5" width="3.5" height="3.5" fill="#555"/>
<rect x="333" y="342.0" width="3.5" height="3.5" fill="#ccc"/><rect x="340" y="342.0" width="3.5" height="3.5" fill="#555"/>
<rect x="333" y="348.5" width="3.5" height="3.5" fill="#ccc"/><rect x="340" y="348.5" width="3.5" height="3.5" fill="#555"/>
<rect x="362.3" y="346.3" width="12.5" height="26.7" rx="1.5" fill="#d8d8d8"/>
<rect x="363.1" y="353.8" width="10.9" height="11.7" fill="#d9c29a"/>
<rect x="376.6" y="346.3" width="12.5" height="26.7" rx="1.5" fill="#d8d8d8"/>
<rect x="377.40000000000003" y="353.8" width="10.9" height="11.7" fill="#d9c29a"/>
<rect x="349.8" y="355" width="9" height="18" rx="1.5" fill="#d8d8d8"/>
<rect x="350.6" y="360.0" width="7.4" height="7.9" fill="#d9c29a"/>
<rect x="330" y="360" width="16" height="9" fill="#2a2a2a"/><rect x="331" y="355" width="4" height="5" fill="#ccc"/><rect x="341" y="355" width="4" height="5" fill="#ccc"/><rect x="336" y="369" width="4" height="5" fill="#ccc"/>
<rect x="396" y="339" width="20" height="25" fill="#3a3a3a"/>
<rect x="392" y="341" width="3.5" height="3" fill="#ccc"/><rect x="417" y="341" width="3.5" height="3" fill="#ccc"/>
<rect x="392" y="347" width="3.5" height="3" fill="#ccc"/><rect x="417" y="347" width="3.5" height="3" fill="#ccc"/>
<rect x="392" y="353" width="3.5" height="3" fill="#ccc"/><rect x="417" y="353" width="3.5" height="3" fill="#ccc"/>
<rect x="392" y="359" width="3.5" height="3" fill="#ccc"/><rect x="417" y="359" width="3.5" height="3" fill="#ccc"/>
<rect x="419.6" y="339" width="8.9" height="16" rx="1.5" fill="#d8d8d8"/>
<rect x="420.40000000000003" y="343.5" width="7.300000000000001" height="7.0" fill="#d9c29a"/>
<rect x="430.3" y="328.4" width="21.4" height="25" rx="1.5" fill="#cfcfcf"/><rect x="430.3" y="333" width="21.4" height="16" fill="#3e3e3e"/>
<rect x="459" y="329.0" width="3.5" height="3.5" fill="#d0d0d0"/><rect x="465" y="329.0" width="3.5" height="3.5" fill="#7a7a7a"/>
<rect x="459" y="334.3" width="3.5" height="3.5" fill="#d0d0d0"/><rect x="465" y="334.3" width="3.5" height="3.5" fill="#7a7a7a"/>
<rect x="459" y="339.6" width="3.5" height="3.5" fill="#d0d0d0"/><rect x="465" y="339.6" width="3.5" height="3.5" fill="#7a7a7a"/>
<rect x="459" y="344.9" width="3.5" height="3.5" fill="#d0d0d0"/><rect x="465" y="344.9" width="3.5" height="3.5" fill="#7a7a7a"/>
<rect x="459" y="350.2" width="3.5" height="3.5" fill="#d0d0d0"/><rect x="465" y="350.2" width="3.5" height="3.5" fill="#7a7a7a"/>
<rect x="459" y="355.5" width="3.5" height="3.5" fill="#d0d0d0"/><rect x="465" y="355.5" width="3.5" height="3.5" fill="#7a7a7a"/>
<rect x="425" y="366.7" width="16" height="7" rx="1.5" fill="#d8d8d8"/>
<rect x="429.5" y="367.5" width="7.0" height="5.4" fill="#d9c29a"/>
<rect x="400" y="367" width="3.5" height="4" fill="#c8c8c8"/>
<rect x="410" y="367" width="3.5" height="4" fill="#c8c8c8"/>
<rect x="418" y="367" width="3.5" height="4" fill="#c8c8c8"/>
<rect x="501.5" y="265.8" width="16.1" height="42.2" fill="#ffffff"/>
<rect x="518.3" y="258.7" width="15.4" height="48.6" fill="none" stroke="#ffffff" stroke-width="1.6"/>
<text transform="translate(513.5,287) rotate(-90)" font-family='"Liberation Mono", monospace' font-weight="bold" font-size="11" fill="#1d4d7b" text-anchor="middle">NANO</text>
<text transform="translate(530,283) rotate(-90)" font-family='"Liberation Mono", monospace' font-weight="bold" font-size="11.5" fill="#ffffff" stroke="#ffffff" stroke-width="0.35" text-anchor="middle">ESP32</text>
<circle cx="495.5" cy="316.6" r="4.2" fill="none" stroke="#fff" stroke-width="1.2"/><text x="495.5" y="319.2" font-size="6.5" font-weight="bold" fill="#fff" text-anchor="middle">R</text>
<path d="M517.6 342 C511 337.5 506.8 334 506.8 328.5 C506.8 322.3 511.6 318.2 517.6 318.2 C523.6 318.2 528.4 322.3 528.4 328.5 C528.4 334 524.2 337.5 517.6 342 C511 346.5 506.8 350 506.8 355.5 C506.8 361.7 511.6 365.8 517.6 365.8 C523.6 365.8 528.4 361.7 528.4 355.5 C528.4 350 524.2 346.5 517.6 342 Z" fill="none" stroke="#ffffff" stroke-width="4.8"/>
<rect x="516.4" y="323.5" width="2.6" height="10" fill="#fff"/><rect x="512.7" y="327.2" width="10" height="2.6" fill="#fff"/>
<rect x="516.4" y="350.5" width="2.6" height="10" fill="#fff"/>
<text transform="translate(543.5,342.5) rotate(-90)" font-family='"Liberation Mono", monospace' font-weight="bold" font-size="12" fill="#ffffff" stroke="#ffffff" stroke-width="0.5" text-anchor="middle">ARDUINO</text>
<rect x="549.7" y="260.4" width="14.3" height="7.2" rx="1.5" fill="#d8d8d8"/>
<rect x="553.7" y="261.2" width="6.3" height="5.6" fill="#d9c29a"/>
<rect x="542.6" y="271" width="25" height="11" rx="1.5" fill="#d8d8d8"/>
<rect x="549.6" y="271.8" width="11.0" height="9.4" fill="#d9c29a"/>
<rect x="551" y="285.5" width="11" height="5.5" rx="1.5" fill="#d8d8d8"/>
<rect x="554.1" y="286.3" width="4.8" height="3.9" fill="#ccc"/>
<rect x="551.5" y="293.7" width="16" height="7.5" rx="1.5" fill="#d8d8d8"/>
<rect x="556.0" y="294.5" width="7.0" height="5.9" fill="#666"/>
<rect x="555" y="305" width="11" height="4" rx="1.5" fill="#d8d8d8"/>
<rect x="558.1" y="305.8" width="4.8" height="2.4" fill="#ccc"/>
<rect x="546.2" y="312.3" width="23.2" height="41.1" rx="2.5" fill="#a8a8a8"/><rect x="549" y="315.5" width="17.6" height="34.7" rx="1.5" fill="#c8c8c8"/>
<rect x="556" y="357" width="9" height="5" rx="1.5" fill="#d8d8d8"/>
<rect x="558.5" y="357.8" width="4.0" height="3.4" fill="#ccc"/>
<rect x="580.9" y="255" width="159.5" height="117" fill="#2f922f"/>
<path d="M705 262 L733 312 L705 364 Z" fill="#3dbb3d"/>
<path d="M705 262 L719 287 L719 337 L705 364 Z" fill="#33a833"/>
<rect x="580.9" y="255" width="159.5" height="117" fill="none" stroke="#3ccc3c" stroke-width="2.2"/>
<rect x="718" y="294" width="4" height="42" fill="#111"/>
<rect x="717.5" y="292" width="5" height="5" fill="#e8e8e8"/><rect x="717.5" y="332" width="5" height="5" fill="#e8e8e8"/>
<rect x="732.5" y="276" width="2" height="28" fill="#58d058"/>
<rect x="730" y="274" width="7" height="5" fill="#e8e8e8"/><rect x="734" y="304" width="4.5" height="5" fill="#d8d8c8"/><rect x="734" y="320" width="4.5" height="5" fill="#d8d8c8"/>
<rect x="583.8" y="257.5" width="121.2" height="113.5" fill="#8f8f8f"/>
<rect x="585.5" y="259.5" width="118" height="110" fill="#bdbdbd"/>
<rect x="597.3" y="267.6" width="96.6" height="93" rx="3" fill="#e2e2e2"/>
<rect x="608.8" y="273.2" width="46.5" height="43.7" fill="#111"/>
<rect x="611.7" y="273.2" width="2.91" height="2.73" fill="#e2e2e2"/>
<rect x="611.7" y="284.1" width="2.91" height="2.73" fill="#e2e2e2"/>
<rect x="611.7" y="289.6" width="2.91" height="2.73" fill="#e2e2e2"/>
<rect x="611.7" y="295.1" width="2.91" height="2.73" fill="#e2e2e2"/>
<rect x="611.7" y="297.8" width="2.91" height="2.73" fill="#e2e2e2"/>
<rect x="611.7" y="300.5" width="2.91" height="2.73" fill="#e2e2e2"/>
<rect x="611.7" y="303.3" width="2.91" height="2.73" fill="#e2e2e2"/>
<rect x="611.7" y="308.7" width="2.91" height="2.73" fill="#e2e2e2"/>
<rect x="614.6" y="275.9" width="2.91" height="2.73" fill="#e2e2e2"/>
<rect x="614.6" y="281.4" width="2.91" height="2.73" fill="#e2e2e2"/>
<rect x="614.6" y="284.1" width="2.91" height="2.73" fill="#e2e2e2"/>
<rect x="614.6" y="286.9" width="2.91" height="2.73" fill="#e2e2e2"/>
<rect x="614.6" y="292.3" width="2.91" height="2.73" fill="#e2e2e2"/>
<rect x="614.6" y="295.1" width="2.91" height="2.73" fill="#e2e2e2"/>
<rect x="614.6" y="303.3" width="2.91" height="2.73" fill="#e2e2e2"/>
<rect x="617.5" y="284.1" width="2.91" height="2.73" fill="#e2e2e2"/>
<rect x="617.5" y="289.6" width="2.91" height="2.73" fill="#e2e2e2"/>
<rect x="617.5" y="292.3" width="2.91" height="2.73" fill="#e2e2e2"/>
<rect x="617.5" y="297.8" width="2.91" height="2.73" fill="#e2e2e2"/>
<rect x="617.5" y="303.3" width="2.91" height="2.73" fill="#e2e2e2"/>
<rect x="620.4" y="275.9" width="2.91" height="2.73" fill="#e2e2e2"/>
<rect x="620.4" y="300.5" width="2.91" height="2.73" fill="#e2e2e2"/>
<rect x="623.3" y="273.2" width="2.91" height="2.73" fill="#e2e2e2"/>
<rect x="623.3" y="275.9" width="2.91" height="2.73" fill="#e2e2e2"/>
<rect x="623.3" y="281.4" width="2.91" height="2.73" fill="#e2e2e2"/>
<rect x="623.3" y="286.9" width="2.91" height="2.73" fill="#e2e2e2"/>
<rect x="623.3" y="289.6" width="2.91" height="2.73" fill="#e2e2e2"/>
<rect x="623.3" y="292.3" width="2.91" height="2.73" fill="#e2e2e2"/>
<rect x="623.3" y="297.8" width="2.91" height="2.73" fill="#e2e2e2"/>
<rect x="623.3" y="300.5" width="2.91" height="2.73" fill="#e2e2e2"/>
<rect x="623.3" y="303.3" width="2.91" height="2.73" fill="#e2e2e2"/>
<rect x="623.3" y="308.7" width="2.91" height="2.73" fill="#e2e2e2"/>
<rect x="626.2" y="284.1" width="2.91" height="2.73" fill="#e2e2e2"/>
<rect x="626.2" y="286.9" width="2.91" height="2.73" fill="#e2e2e2"/>
<rect x="626.2" y="289.6" width="2.91" height="2.73" fill="#e2e2e2"/>
<rect x="626.2" y="297.8" width="2.91" height="2.73" fill="#e2e2e2"/>
<rect x="626.2" y="300.5" width="2.91" height="2.73" fill="#e2e2e2"/>
<rect x="626.2" y="303.3" width="2.91" height="2.73" fill="#e2e2e2"/>
<rect x="626.2" y="306.0" width="2.91" height="2.73" fill="#e2e2e2"/>
<rect x="629.1" y="273.2" width="2.91" height="2.73" fill="#e2e2e2"/>
<rect x="629.1" y="275.9" width="2.91" height="2.73" fill="#e2e2e2"/>
<rect x="629.1" y="278.7" width="2.91" height="2.73" fill="#e2e2e2"/>
<rect x="629.1" y="281.4" width="2.91" height="2.73" fill="#e2e2e2"/>
<rect x="629.1" y="300.5" width="2.91" height="2.73" fill="#e2e2e2"/>
<rect x="632.0" y="273.2" width="2.91" height="2.73" fill="#e2e2e2"/>
<rect x="632.0" y="275.9" width="2.91" height="2.73" fill="#e2e2e2"/>
<rect x="632.0" y="278.7" width="2.91" height="2.73" fill="#e2e2e2"/>
<rect x="632.0" y="284.1" width="2.91" height="2.73" fill="#e2e2e2"/>
<rect x="632.0" y="286.9" width="2.91" height="2.73" fill="#e2e2e2"/>
<rect x="632.0" y="289.6" width="2.91" height="2.73" fill="#e2e2e2"/>
<rect x="632.0" y="292.3" width="2.91" height="2.73" fill="#e2e2e2"/>
<rect x="632.0" y="295.1" width="2.91" height="2.73" fill="#e2e2e2"/>
<rect x="632.0" y="297.8" width="2.91" height="2.73" fill="#e2e2e2"/>
<rect x="632.0" y="300.5" width="2.91" height="2.73" fill="#e2e2e2"/>
<rect x="632.0" y="303.3" width="2.91" height="2.73" fill="#e2e2e2"/>
<rect x="632.0" y="306.0" width="2.91" height="2.73" fill="#e2e2e2"/>
<rect x="632.0" y="308.7" width="2.91" height="2.73" fill="#e2e2e2"/>
<rect x="635.0" y="278.7" width="2.91" height="2.73" fill="#e2e2e2"/>
<rect x="635.0" y="281.4" width="2.91" height="2.73" fill="#e2e2e2"/>
<rect x="635.0" y="284.1" width="2.91" height="2.73" fill="#e2e2e2"/>
<rect x="635.0" y="286.9" width="2.91" height="2.73" fill="#e2e2e2"/>
<rect x="635.0" y="289.6" width="2.91" height="2.73" fill="#e2e2e2"/>
<rect x="635.0" y="303.3" width="2.91" height="2.73" fill="#e2e2e2"/>
<rect x="635.0" y="306.0" width="2.91" height="2.73" fill="#e2e2e2"/>
<rect x="635.0" y="308.7" width="2.91" height="2.73" fill="#e2e2e2"/>
<rect x="637.9" y="275.9" width="2.91" height="2.73" fill="#e2e2e2"/>
<rect x="637.9" y="278.7" width="2.91" height="2.73" fill="#e2e2e2"/>
<rect x="637.9" y="286.9" width="2.91" height="2.73" fill="#e2e2e2"/>
<rect x="637.9" y="292.3" width="2.91" height="2.73" fill="#e2e2e2"/>
<rect x="637.9" y="306.0" width="2.91" height="2.73" fill="#e2e2e2"/>
<rect x="637.9" y="308.7" width="2.91" height="2.73" fill="#e2e2e2"/>
<rect x="640.8" y="281.4" width="2.91" height="2.73" fill="#e2e2e2"/>
<rect x="640.8" y="284.1" width="2.91" height="2.73" fill="#e2e2e2"/>
<rect x="640.8" y="303.3" width="2.91" height="2.73" fill="#e2e2e2"/>
<rect x="640.8" y="308.7" width="2.91" height="2.73" fill="#e2e2e2"/>
<rect x="643.7" y="273.2" width="2.91" height="2.73" fill="#e2e2e2"/>
<rect x="643.7" y="275.9" width="2.91" height="2.73" fill="#e2e2e2"/>
<rect x="643.7" y="278.7" width="2.91" height="2.73" fill="#e2e2e2"/>
<rect x="643.7" y="286.9" width="2.91" height="2.73" fill="#e2e2e2"/>
<rect x="643.7" y="297.8" width="2.91" height="2.73" fill="#e2e2e2"/>
<rect x="643.7" y="300.5" width="2.91" height="2.73" fill="#e2e2e2"/>
<rect x="643.7" y="303.3" width="2.91" height="2.73" fill="#e2e2e2"/>
<rect x="643.7" y="306.0" width="2.91" height="2.73" fill="#e2e2e2"/>
<rect x="643.7" y="308.7" width="2.91" height="2.73" fill="#e2e2e2"/>
<rect x="646.6" y="286.9" width="2.91" height="2.73" fill="#e2e2e2"/>
<rect x="646.6" y="303.3" width="2.91" height="2.73" fill="#e2e2e2"/>
<rect x="646.6" y="308.7" width="2.91" height="2.73" fill="#e2e2e2"/>
<rect x="649.5" y="275.9" width="2.91" height="2.73" fill="#e2e2e2"/>
<rect x="649.5" y="278.7" width="2.91" height="2.73" fill="#e2e2e2"/>
<rect x="649.5" y="286.9" width="2.91" height="2.73" fill="#e2e2e2"/>
<rect x="649.5" y="289.6" width="2.91" height="2.73" fill="#e2e2e2"/>
<rect x="649.5" y="292.3" width="2.91" height="2.73" fill="#e2e2e2"/>
<rect x="649.5" y="300.5" width="2.91" height="2.73" fill="#e2e2e2"/>
<rect x="652.4" y="275.9" width="2.91" height="2.73" fill="#e2e2e2"/>
<rect x="652.4" y="278.7" width="2.91" height="2.73" fill="#e2e2e2"/>
<rect x="652.4" y="292.3" width="2.91" height="2.73" fill="#e2e2e2"/>
<rect x="652.4" y="300.5" width="2.91" height="2.73" fill="#e2e2e2"/>
<rect x="652.4" y="303.3" width="2.91" height="2.73" fill="#e2e2e2"/>
<rect x="652.4" y="306.0" width="2.91" height="2.73" fill="#e2e2e2"/>
<rect x="652.4" y="308.7" width="2.91" height="2.73" fill="#e2e2e2"/>
<text x="608.8" y="332.5" font-family='"Liberation Mono", monospace' font-size="11" fill="#222" textLength="40" lengthAdjust="spacingAndGlyphs">C08E3F</text>
<circle cx="610.6" cy="348" r="10.2" fill="#d8262c"/><circle cx="606" cy="342.5" r="2" fill="#fff"/>
<path d="M607.5 345 L607.5 352 A4 4 0 0 0 615.5 352 L615.5 345" fill="none" stroke="#fff" stroke-width="2.6"/>
<text x="619" y="353.5" font-size="17" font-weight="bold" fill="#222">blox</text>
<text transform="translate(672,355) rotate(-90)" font-size="12.5" fill="#1a1a1a" textLength="70" lengthAdjust="spacingAndGlyphs">00B-00 22/15</text>
<text transform="translate(684.5,353.8) rotate(-90)" font-size="11.5" fill="#1a1a1a" textLength="58" lengthAdjust="spacingAndGlyphs">NORA-W106</text>
<rect x="709" y="376.5" width="18" height="5.5" rx="1.5" fill="#d8d8d8"/>
<rect x="714.0" y="377.3" width="7.9" height="3.9" fill="#ccc"/>
</g>
<g id="gps">
<rect x="1056.2" y="129.5" width="404.4" height="291.5" fill="#0f4e84"/>
<circle cx="1084.9" cy="155.7" r="21.5" fill="#dcdcdc"/><circle cx="1084.9" cy="155.7" r="19.3" fill="#ffffff"/>
<circle cx="1435.6" cy="157.5" r="21.5" fill="#dcdcdc"/><circle cx="1435.6" cy="157.5" r="19.3" fill="#ffffff"/>
<circle cx="1430" cy="294.8" r="21.5" fill="#dcdcdc"/><circle cx="1430" cy="294.8" r="19.3" fill="#ffffff"/>
<circle cx="1435.6" cy="393.2" r="21.5" fill="#dcdcdc"/><circle cx="1435.6" cy="393.2" r="19.3" fill="#ffffff"/>
<circle cx="1084.9" cy="393.2" r="21.5" fill="#dcdcdc"/><circle cx="1084.9" cy="393.2" r="19.3" fill="#ffffff"/>
<text x="1198" y="157.5" font-size="19.2" fill="#e4e8f2" stroke="#e4e8f2" stroke-width="0.45" textLength="111" lengthAdjust="spacingAndGlyphs">GY-NEO6MV2</text>
<rect x="1062.4" y="218" width="32.5" height="116.8" rx="2" fill="none" stroke="#c8d4e4" stroke-width="1.3"/>
<rect x="1064.4" y="219.7" width="28" height="27" rx="9" fill="#2b2222"/>
<rect x="1064.4" y="219.7" width="28" height="27" rx="9" fill="none" stroke="#1a1414" stroke-width="1"/>
<rect x="1031" y="227.2" width="50" height="12" rx="2" fill="#d7706e"/>
<rect x="1031" y="230.7" width="48" height="4" fill="#e99a98"/>
<rect x="1064.4" y="247.8" width="28" height="27" rx="9" fill="#2b2222"/>
<rect x="1064.4" y="247.8" width="28" height="27" rx="9" fill="none" stroke="#1a1414" stroke-width="1"/>
<rect x="1031" y="255.3" width="50" height="12" rx="2" fill="#d7706e"/>
<rect x="1031" y="258.8" width="48" height="4" fill="#e99a98"/>
<rect x="1064.4" y="275.8" width="28" height="27" rx="9" fill="#2b2222"/>
<rect x="1064.4" y="275.8" width="28" height="27" rx="9" fill="none" stroke="#1a1414" stroke-width="1"/>
<rect x="1031" y="283.3" width="50" height="12" rx="2" fill="#d7706e"/>
<rect x="1031" y="286.8" width="48" height="4" fill="#e99a98"/>
<rect x="1064.4" y="303.9" width="28" height="27" rx="9" fill="#2b2222"/>
<rect x="1064.4" y="303.9" width="28" height="27" rx="9" fill="none" stroke="#1a1414" stroke-width="1"/>
<rect x="1031" y="311.4" width="50" height="12" rx="2" fill="#d7706e"/>
<rect x="1031" y="314.9" width="48" height="4" fill="#e99a98"/>
<rect x="1127" y="235" width="21.6" height="8.7" fill="#f0f0f0"/><rect x="1128.2" y="236.2" width="19.200000000000003" height="6.299999999999999" fill="#deb887"/>
<rect x="1127" y="306" width="21.6" height="8.7" fill="#f0f0f0"/><rect x="1128.2" y="307.2" width="19.200000000000003" height="6.299999999999999" fill="#deb887"/>
<rect x="1123" y="268" width="29" height="15" fill="#1f1f1f"/>
<rect x="1125" y="260" width="3.6" height="8" fill="#f0f0f0"/>
<rect x="1135" y="260" width="3.6" height="8" fill="#f0f0f0"/>
<rect x="1146" y="260" width="3.6" height="8" fill="#f0f0f0"/>
<rect x="1125" y="283" width="3.6" height="8" fill="#f0f0f0"/>
<rect x="1146" y="283" width="3.6" height="8" fill="#f0f0f0"/>
<rect x="1128" y="323.4" width="19" height="12.3" fill="#2a2a2a"/><rect x="1124.5" y="327.5" width="3.5" height="4" fill="#eee"/><rect x="1147" y="327.5" width="3.5" height="4" fill="#eee"/>
<rect x="1127" y="345" width="21.5" height="9" fill="#f4f4f4"/><rect x="1131" y="345" width="13.5" height="9" fill="#151515"/>
<rect x="1374.5" y="205" width="12.5" height="30" fill="#f0f0f0"/><rect x="1375.5" y="209" width="10.5" height="22" fill="#deb887"/>
<rect x="1352" y="243.5" width="20" height="9" fill="#f4f4f4"/><rect x="1356" y="243.5" width="12" height="9" fill="#151515"/>
<rect x="1353.3" y="380.4" width="20.2" height="9" fill="#f4f4f4"/><rect x="1357.3" y="380.4" width="12.2" height="9" fill="#151515"/>
<rect x="1353.3" y="404.6" width="20.2" height="8.4" fill="#f8f8f8"/>
<rect x="1198.9" y="380.4" width="19" height="9" fill="#f0f0f0"/><rect x="1200.5" y="381.4" width="15.8" height="7" fill="#deb887"/>
<rect x="1190" y="398.4" width="34.6" height="20.1" fill="#f2c12e"/><rect x="1221" y="398.4" width="3.6" height="20.1" fill="#dc9a18"/>
<rect x="1262.7" y="380.4" width="47" height="33.6" fill="#262626"/>
<rect x="1251.5" y="384.4" width="10.5" height="3.2" fill="#e8e8e8"/><rect x="1310.5" y="384.4" width="10.5" height="3.2" fill="#e8e8e8"/>
<rect x="1251.5" y="392.2" width="10.5" height="3.2" fill="#e8e8e8"/><rect x="1310.5" y="392.2" width="10.5" height="3.2" fill="#e8e8e8"/>
<rect x="1251.5" y="400.0" width="10.5" height="3.2" fill="#e8e8e8"/><rect x="1310.5" y="400.0" width="10.5" height="3.2" fill="#e8e8e8"/>
<rect x="1251.5" y="407.8" width="10.5" height="3.2" fill="#e8e8e8"/><rect x="1310.5" y="407.8" width="10.5" height="3.2" fill="#e8e8e8"/>
<circle cx="1142" cy="401" r="27" fill="#cfcfcf"/>
<circle cx="1142" cy="401" r="25" fill="#e2e2e2"/>
<path d="M1118 380 L1140 366 L1170 408 L1150 424 Z" fill="#c4c4c4"/>
<rect x="1117" y="370" width="14" height="12" rx="3" fill="#d6d6d6"/><rect x="1161" y="372" width="12" height="12" rx="3" fill="#cfcfcf"/>
<rect x="1192.5" y="192.5" width="9" height="5.5" fill="#eeeeee"/><rect x="1345" y="192.5" width="8.5" height="5.5" fill="#eeeeee"/>
<rect x="1192.5" y="202.6" width="9" height="5.5" fill="#eeeeee"/><rect x="1345" y="202.6" width="8.5" height="5.5" fill="#eeeeee"/>
<rect x="1192.5" y="212.6" width="9" height="5.5" fill="#eeeeee"/><rect x="1345" y="212.6" width="8.5" height="5.5" fill="#eeeeee"/>
<rect x="1192.5" y="222.7" width="9" height="5.5" fill="#eeeeee"/><rect x="1345" y="222.7" width="8.5" height="5.5" fill="#eeeeee"/>
<rect x="1192.5" y="232.7" width="9" height="5.5" fill="#eeeeee"/><rect x="1345" y="232.7" width="8.5" height="5.5" fill="#eeeeee"/>
<rect x="1192.5" y="242.8" width="9" height="5.5" fill="#eeeeee"/><rect x="1345" y="242.8" width="8.5" height="5.5" fill="#eeeeee"/>
<rect x="1192.5" y="252.8" width="9" height="5.5" fill="#eeeeee"/><rect x="1345" y="252.8" width="8.5" height="5.5" fill="#eeeeee"/>
<rect x="1192.5" y="262.9" width="9" height="5.5" fill="#eeeeee"/><rect x="1345" y="262.9" width="8.5" height="5.5" fill="#eeeeee"/>
<rect x="1192.5" y="272.9" width="9" height="5.5" fill="#eeeeee"/><rect x="1345" y="272.9" width="8.5" height="5.5" fill="#eeeeee"/>
<rect x="1192.5" y="282.9" width="9" height="5.5" fill="#eeeeee"/><rect x="1345" y="282.9" width="8.5" height="5.5" fill="#eeeeee"/>
<rect x="1192.5" y="293.0" width="9" height="5.5" fill="#eeeeee"/><rect x="1345" y="293.0" width="8.5" height="5.5" fill="#eeeeee"/>
<rect x="1192.5" y="303.1" width="9" height="5.5" fill="#eeeeee"/><rect x="1345" y="303.1" width="8.5" height="5.5" fill="#eeeeee"/>
<rect x="1192.5" y="313.1" width="9" height="5.5" fill="#eeeeee"/><rect x="1345" y="313.1" width="8.5" height="5.5" fill="#eeeeee"/>
<rect x="1192.5" y="323.1" width="9" height="5.5" fill="#eeeeee"/><rect x="1345" y="323.1" width="8.5" height="5.5" fill="#eeeeee"/>
<rect x="1192.5" y="333.2" width="9" height="5.5" fill="#eeeeee"/><rect x="1345" y="333.2" width="8.5" height="5.5" fill="#eeeeee"/>
<rect x="1192.5" y="343.2" width="9" height="5.5" fill="#eeeeee"/><rect x="1345" y="343.2" width="8.5" height="5.5" fill="#eeeeee"/>
<rect x="1192.5" y="353.3" width="9" height="5.5" fill="#eeeeee"/><rect x="1345" y="353.3" width="8.5" height="5.5" fill="#eeeeee"/>
<rect x="1200" y="184" width="146" height="184" rx="2" fill="#c2c2c2"/>
<rect x="1203" y="187" width="140" height="176" rx="2" fill="#dadada"/>
<rect x="1211.5" y="195" width="122" height="161" rx="6" fill="#ffffff"/>
<rect x="1263" y="217" width="41" height="41" fill="#111"/>
<rect x="1265.9" y="219.9" width="2.93" height="2.93" fill="#fff"/>
<rect x="1265.9" y="237.5" width="2.93" height="2.93" fill="#fff"/>
<rect x="1265.9" y="246.3" width="2.93" height="2.93" fill="#fff"/>
<rect x="1265.9" y="249.2" width="2.93" height="2.93" fill="#fff"/>
<rect x="1268.9" y="228.7" width="2.93" height="2.93" fill="#fff"/>
<rect x="1268.9" y="234.6" width="2.93" height="2.93" fill="#fff"/>
<rect x="1268.9" y="243.4" width="2.93" height="2.93" fill="#fff"/>
<rect x="1268.9" y="246.3" width="2.93" height="2.93" fill="#fff"/>
<rect x="1268.9" y="249.2" width="2.93" height="2.93" fill="#fff"/>
<rect x="1271.8" y="219.9" width="2.93" height="2.93" fill="#fff"/>
<rect x="1271.8" y="225.8" width="2.93" height="2.93" fill="#fff"/>
<rect x="1271.8" y="228.7" width="2.93" height="2.93" fill="#fff"/>
<rect x="1274.7" y="231.7" width="2.93" height="2.93" fill="#fff"/>
<rect x="1274.7" y="240.4" width="2.93" height="2.93" fill="#fff"/>
<rect x="1274.7" y="243.4" width="2.93" height="2.93" fill="#fff"/>
<rect x="1274.7" y="252.2" width="2.93" height="2.93" fill="#fff"/>
<rect x="1277.7" y="217.0" width="2.93" height="2.93" fill="#fff"/>
<rect x="1277.7" y="219.9" width="2.93" height="2.93" fill="#fff"/>
<rect x="1277.7" y="222.9" width="2.93" height="2.93" fill="#fff"/>
<rect x="1277.7" y="231.7" width="2.93" height="2.93" fill="#fff"/>
<rect x="1277.7" y="237.5" width="2.93" height="2.93" fill="#fff"/>
<rect x="1277.7" y="243.4" width="2.93" height="2.93" fill="#fff"/>
<rect x="1280.6" y="217.0" width="2.93" height="2.93" fill="#fff"/>
<rect x="1280.6" y="219.9" width="2.93" height="2.93" fill="#fff"/>
<rect x="1280.6" y="225.8" width="2.93" height="2.93" fill="#fff"/>
<rect x="1280.6" y="228.7" width="2.93" height="2.93" fill="#fff"/>
<rect x="1280.6" y="231.7" width="2.93" height="2.93" fill="#fff"/>
<rect x="1280.6" y="237.5" width="2.93" height="2.93" fill="#fff"/>
<rect x="1280.6" y="240.4" width="2.93" height="2.93" fill="#fff"/>
<rect x="1280.6" y="246.3" width="2.93" height="2.93" fill="#fff"/>
<rect x="1283.5" y="240.4" width="2.93" height="2.93" fill="#fff"/>
<rect x="1283.5" y="246.3" width="2.93" height="2.93" fill="#fff"/>
<rect x="1283.5" y="249.2" width="2.93" height="2.93" fill="#fff"/>
<rect x="1286.4" y="219.9" width="2.93" height="2.93" fill="#fff"/>
<rect x="1286.4" y="222.9" width="2.93" height="2.93" fill="#fff"/>
<rect x="1286.4" y="228.7" width="2.93" height="2.93" fill="#fff"/>
<rect x="1286.4" y="237.5" width="2.93" height="2.93" fill="#fff"/>
<rect x="1286.4" y="249.2" width="2.93" height="2.93" fill="#fff"/>
<rect x="1289.4" y="217.0" width="2.93" height="2.93" fill="#fff"/>
<rect x="1289.4" y="219.9" width="2.93" height="2.93" fill="#fff"/>
<rect x="1289.4" y="228.7" width="2.93" height="2.93" fill="#fff"/>
<rect x="1289.4" y="237.5" width="2.93" height="2.93" fill="#fff"/>
<rect x="1289.4" y="240.4" width="2.93" height="2.93" fill="#fff"/>
<rect x="1289.4" y="243.4" width="2.93" height="2.93" fill="#fff"/>
<rect x="1289.4" y="246.3" width="2.93" height="2.93" fill="#fff"/>
<rect x="1289.4" y="252.2" width="2.93" height="2.93" fill="#fff"/>
<rect x="1292.3" y="219.9" width="2.93" height="2.93" fill="#fff"/>
<rect x="1292.3" y="228.7" width="2.93" height="2.93" fill="#fff"/>
<rect x="1292.3" y="231.7" width="2.93" height="2.93" fill="#fff"/>
<rect x="1292.3" y="237.5" width="2.93" height="2.93" fill="#fff"/>
<rect x="1292.3" y="240.4" width="2.93" height="2.93" fill="#fff"/>
<rect x="1292.3" y="243.4" width="2.93" height="2.93" fill="#fff"/>
<rect x="1292.3" y="249.2" width="2.93" height="2.93" fill="#fff"/>
<rect x="1292.3" y="252.2" width="2.93" height="2.93" fill="#fff"/>
<rect x="1295.2" y="219.9" width="2.93" height="2.93" fill="#fff"/>
<rect x="1295.2" y="225.8" width="2.93" height="2.93" fill="#fff"/>
<rect x="1295.2" y="228.7" width="2.93" height="2.93" fill="#fff"/>
<rect x="1295.2" y="240.4" width="2.93" height="2.93" fill="#fff"/>
<rect x="1295.2" y="243.4" width="2.93" height="2.93" fill="#fff"/>
<rect x="1295.2" y="249.2" width="2.93" height="2.93" fill="#fff"/>
<rect x="1298.2" y="217.0" width="2.93" height="2.93" fill="#fff"/>
<rect x="1298.2" y="219.9" width="2.93" height="2.93" fill="#fff"/>
<rect x="1298.2" y="231.7" width="2.93" height="2.93" fill="#fff"/>
<rect x="1298.2" y="234.6" width="2.93" height="2.93" fill="#fff"/>
<rect x="1298.2" y="237.5" width="2.93" height="2.93" fill="#fff"/>
<rect x="1298.2" y="243.4" width="2.93" height="2.93" fill="#fff"/>
<rect x="1298.2" y="246.3" width="2.93" height="2.93" fill="#fff"/>
<rect x="1298.2" y="249.2" width="2.93" height="2.93" fill="#fff"/>
<rect x="1298.2" y="252.2" width="2.93" height="2.93" fill="#fff"/>
<rect x="1301.1" y="219.9" width="2.93" height="2.93" fill="#fff"/>
<rect x="1301.1" y="222.9" width="2.93" height="2.93" fill="#fff"/>
<rect x="1301.1" y="234.6" width="2.93" height="2.93" fill="#fff"/>
<rect x="1301.1" y="243.4" width="2.93" height="2.93" fill="#fff"/>
<circle cx="1223.4" cy="215.5" r="8" fill="none" stroke="#666" stroke-width="1.1"/><circle cx="1223.4" cy="245.2" r="8" fill="none" stroke="#666" stroke-width="1.1"/>
<text transform="translate(1222,218) rotate(-90)" font-size="6" fill="#555" text-anchor="middle">e4</text>
<path d="M1218 250 L1229 240" stroke="#666" stroke-width="1"/>
<text transform="translate(1235,331.5) rotate(-90)" font-size="12" font-weight="bold" fill="#333" textLength="30" lengthAdjust="spacingAndGlyphs">blox</text>
<circle cx="1226.2" cy="337.2" r="5.7" fill="#d8262c"/>
<text transform="translate(1253,347) rotate(-90)" font-size="15" fill="#222" textLength="99" lengthAdjust="spacingAndGlyphs">NEO-6M-0-001</text>
<text transform="translate(1266.5,342.8) rotate(-90)" font-size="12.5" fill="#222" textLength="72" lengthAdjust="spacingAndGlyphs">24221858179</text>
<text transform="translate(1280.5,342.8) rotate(-90)" font-size="12.5" fill="#222" textLength="24" lengthAdjust="spacingAndGlyphs">1606</text>
<text transform="translate(1295,342.8) rotate(-90)" font-size="12.5" fill="#222" textLength="41" lengthAdjust="spacingAndGlyphs">0300  62</text>
<text transform="translate(1318,314.5) rotate(-90)" font-size="10" fill="#333" textLength="44" lengthAdjust="spacingAndGlyphs">u-blox AG</text>
<circle cx="1314" cy="320.2" r="5.2" fill="none" stroke="#444" stroke-width="1"/>
<circle cx="1314" cy="338.6" r="6" fill="#1a1a1a"/>
<rect x="1413.3" y="189.7" width="38.6" height="37.3" rx="1" fill="#f7c01a"/>
<rect x="1413.3" y="209" width="38.6" height="18" fill="#f3cc52"/>
<path d="M1451.9 189.7 L1459 198.5 L1459 218.5 L1451.9 227 Z" fill="#e0a818"/>
<rect x="1459" y="198.5" width="18.7" height="20" rx="1" fill="#f7c01a"/><rect x="1459" y="210" width="18.7" height="8.5" fill="#efb420"/>
</g>
<path d="M1477 209 C1520 209 1555 211 1582 217" fill="none" stroke="#6f6a6a" stroke-width="13.5"/>
<rect x="1579.5" y="130.7" width="294.7" height="295.6" fill="#7a7c7d"/>
<rect x="1587.7" y="138.6" width="276" height="278.2" rx="14" fill="#e8b59a" stroke="#d9a48a" stroke-width="1.6"/>
<path d="M1611.7 162.6 L1823 162.6 L1838 177.6 L1838 391.7 L1626.7 391.7 L1611.7 376.7 Z" fill="#ffffff" stroke="#e2b8a2" stroke-width="1"/>
<circle cx="1725.2" cy="251.6" r="19.5" fill="#ffffff" stroke="#2a2a2a" stroke-width="2.2"/><circle cx="1725.2" cy="251.6" r="13.5" fill="#c4c4c4"/>
<rect x="1874" y="271.6" width="2" height="11.6" fill="#2a2a2a"/>
<text x="1291" y="105" font-size="32" font-weight="bold" fill="#14a8e2" textLength="336" lengthAdjust="spacingAndGlyphs">NEO-6M GPS Module</text>
<path d="M610.6 142.6 L697.8 93.3 L1023.7 233.2" fill="none" stroke="#000000" stroke-width="10.8" stroke-linejoin="round" stroke-linecap="round"/>
<path d="M610.6 142.6 L697.8 93.3 L1023.7 233.2" fill="none" stroke="#404040" stroke-width="7.0" stroke-linejoin="round" stroke-linecap="round"/>
<circle cx="697.8" cy="93.3" r="5.6" fill="#000000"/>
<path d="M581.9 142.6 L656.5 101.3 L1023.7 261.2" fill="none" stroke="#d000d0" stroke-width="10.8" stroke-linejoin="round" stroke-linecap="round"/>
<path d="M581.9 142.6 L656.5 101.3 L1023.7 261.2" fill="none" stroke="#ff40ff" stroke-width="7.0" stroke-linejoin="round" stroke-linecap="round"/>
<circle cx="656.5" cy="101.3" r="5.6" fill="#e000e0"/>
<path d="M553.3 142.6 L621.2 104 L1023.7 289.4" fill="none" stroke="#e2da00" stroke-width="10.8" stroke-linejoin="round" stroke-linecap="round"/>
<path d="M553.3 142.6 L621.2 104 L1023.7 289.4" fill="none" stroke="#ffff00" stroke-width="7.0" stroke-linejoin="round" stroke-linecap="round"/>
<circle cx="621.2" cy="104" r="5.6" fill="#e4dc40"/>
<path d="M326.6 455 L745 513.5 L1023.7 317.4" fill="none" stroke="#9a0000" stroke-width="10.8" stroke-linejoin="round" stroke-linecap="round"/>
<path d="M326.6 455 L745 513.5 L1023.7 317.4" fill="none" stroke="#d41414" stroke-width="7.0" stroke-linejoin="round" stroke-linecap="round"/>
<circle cx="745" cy="513.5" r="5.6" fill="#b00808"/>
<circle cx="553.3" cy="142.6" r="7.2" fill="#7ef07e" opacity="0.75"/><circle cx="553.3" cy="142.6" r="5.2" fill="#d0f030"/>
<circle cx="581.9" cy="142.6" r="7.2" fill="#7ef07e" opacity="0.75"/><circle cx="581.9" cy="142.6" r="5.2" fill="#c070c0"/>
<circle cx="610.6" cy="142.6" r="7.2" fill="#7ef07e" opacity="0.75"/><circle cx="610.6" cy="142.6" r="5.2" fill="#285028"/>
<circle cx="326.6" cy="455" r="7.2" fill="#7ef07e" opacity="0.75"/><circle cx="326.6" cy="455" r="5.2" fill="#c8501c"/>
<circle cx="1023.7" cy="233.2" r="7.2" fill="#7ef07e" opacity="0.75"/><circle cx="1023.7" cy="233.2" r="5.2" fill="#285028"/>
<circle cx="1023.7" cy="261.2" r="7.2" fill="#7ef07e" opacity="0.75"/><circle cx="1023.7" cy="261.2" r="5.2" fill="#c070c0"/>
<circle cx="1023.7" cy="289.4" r="7.2" fill="#7ef07e" opacity="0.75"/><circle cx="1023.7" cy="289.4" r="5.2" fill="#d0f030"/>
<circle cx="1023.7" cy="317.4" r="7.2" fill="#7ef07e" opacity="0.75"/><circle cx="1023.7" cy="317.4" r="5.2" fill="#a84010"/>
<ellipse cx="119" cy="43.8" rx="66" ry="31.8" fill="#ffffff" opacity="0.7"/>
<ellipse cx="119" cy="43.8" rx="63" ry="29" fill="#ffffff" stroke="#333333" stroke-width="4"/>
<path d="M76.8 32.7 A14.5 14.5 0 0 1 76.8 61.8 Z" fill="#000"/>
<path d="M90.8 25.1 L114 25.1 L114 48 A13.8 13.8 0 0 1 100.2 61.8 L90.8 61.8 Z" fill="#000"/>
<text x="117.5" y="41.4" font-size="21.5" font-weight="bold" fill="#000" textLength="41.5" lengthAdjust="spacingAndGlyphs">DIY</text>
<rect x="118.1" y="45.5" width="41.4" height="16.3" fill="#000"/>
<text x="121" y="58.3" font-size="14" font-weight="bold" fill="#fff" textLength="35.5" lengthAdjust="spacingAndGlyphs">ables</text>
<rect x="56.1" y="527.8" width="379.7" height="56" fill="#ffffff"/>
<text x="72.5" y="568.6" font-size="33.5" font-weight="bold" font-style="italic" fill="#0c1a5c" textLength="84" lengthAdjust="spacingAndGlyphs">https:</text>
<path d="M170.8 545 L158.4 572 M185.2 545 L172.8 572" stroke="#0c1a5c" stroke-width="2.8" stroke-linecap="butt"/>
<text x="188.5" y="568.6" font-size="33" font-weight="bold" font-style="italic" fill="#5ec6ea" textLength="145" lengthAdjust="spacingAndGlyphs">newbiely</text>
<text x="334" y="568.6" font-size="33" font-weight="bold" font-style="italic" fill="#0c1a5c" textLength="81" lengthAdjust="spacingAndGlyphs">.com</text>
<path d="M1246.8 438.6 Q1277 452 1308 438.6 Q1311.5 465 1312 493 L1242 493 Q1242.5 465 1246.8 438.6 Z" fill="#5ac8ea"/>
<circle cx="1255.5" cy="471.2" r="14.7" fill="none" stroke="#f6b62e" stroke-width="3.9"/>
<circle cx="1298.3" cy="471.2" r="14.7" fill="none" stroke="#f6b62e" stroke-width="3.9"/>
<rect x="1269.5" y="469.5" width="15" height="3.4" fill="#f6b62e"/>
<circle cx="1261.1" cy="473" r="5.7" fill="#fff"/><circle cx="1293.7" cy="473" r="5.7" fill="#fff"/>
<path d="M1276.8 480.6 L1279.5 483.6 L1276.8 486.6 L1274.1 483.6 Z" fill="#fff"/>
<path d="M1229.5 492.2 L1325.5 492.2 Q1328.6 492.2 1328 495.5 L1321.2 537 Q1320.7 540 1317.5 540 L1237.5 540 Q1234.4 540 1233.9 537 L1226.9 495.5 Q1226.4 492.2 1229.5 492.2 Z" fill="#453f78"/>
<ellipse cx="1276.8" cy="516.5" rx="5.8" ry="4.8" fill="#f6b62e"/>
<text x="1183.3" y="567.9" font-size="28" font-weight="bold" fill="#5ac8ea" textLength="185" lengthAdjust="spacingAndGlyphs">newbiely.com</text>
<text transform="translate(729,200) rotate(-23.8)" font-size="29" font-weight="bold" fill="#f0a878" opacity="0.62" textLength="196" lengthAdjust="spacingAndGlyphs">newbiely.com</text>
<text transform="translate(1171,291) rotate(-22)" font-size="28" font-weight="bold" fill="#f0a878" opacity="0.62" textLength="192" lengthAdjust="spacingAndGlyphs">newbiely.com</text>
</svg></body></html>
